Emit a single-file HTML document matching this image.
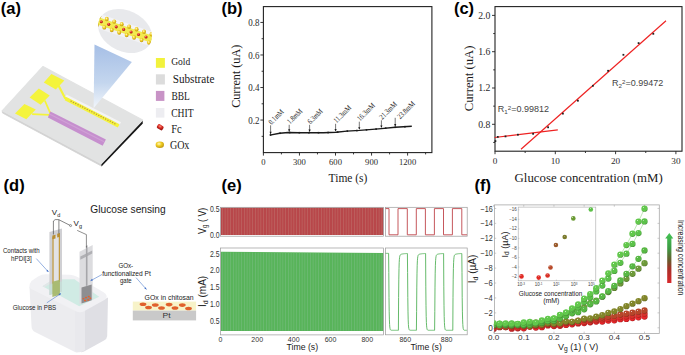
<!DOCTYPE html>
<html><head><meta charset="utf-8"><style>
html,body{margin:0;padding:0;background:#fff;width:685px;height:355px;overflow:hidden}
svg{display:block}
</style></head><body>
<svg width="685" height="355" viewBox="0 0 685 355" font-family="'Liberation Sans', sans-serif">
<defs>
<linearGradient id="cone" x1="0" y1="0" x2="0" y2="1">
 <stop offset="0" stop-color="#a6bfe6"/><stop offset="0.6" stop-color="#c4d6ee"/><stop offset="1" stop-color="#f2f6fb"/>
</linearGradient>
<radialGradient id="gold" cx="0.4" cy="0.35" r="0.7">
 <stop offset="0" stop-color="#fffac0"/><stop offset="0.45" stop-color="#f0cc20"/><stop offset="1" stop-color="#b89010"/>
</radialGradient>
<radialGradient id="redb" cx="0.4" cy="0.35" r="0.7">
 <stop offset="0" stop-color="#ff9080"/><stop offset="0.5" stop-color="#d82a20"/><stop offset="1" stop-color="#901010"/>
</radialGradient>
<clipPath id="ellclip"><ellipse cx="125" cy="31" rx="28.2" ry="20.4" transform="rotate(25 125 31)"/></clipPath>
<linearGradient id="arrowg" x1="0" y1="0" x2="0" y2="1">
 <stop offset="0" stop-color="#44c454"/><stop offset="0.3" stop-color="#3c9c44"/><stop offset="0.55" stop-color="#6a5a2c"/><stop offset="0.72" stop-color="#a83028"/><stop offset="1" stop-color="#d8282c"/>
</linearGradient>
</defs>
<text x="0.80" y="14.30" font-family="'Liberation Sans', sans-serif" font-size="16.5" fill="#000" font-weight="bold" >(a)</text>
<polygon points="2.20,110.80 101.30,163.60 101.30,166.00 2.50,113.00" fill="#d2d2d2" stroke="#d2d2d2" stroke-width="0.8" stroke-linejoin="round"/>
<polygon points="101.30,163.60 142.60,120.00 142.80,123.40 101.50,166.60" fill="#161616" />
<polygon points="43.00,66.50 142.60,120.00 101.30,163.60 2.20,110.80" fill="#e2e3e3" stroke="#e2e3e3" stroke-width="1.2" stroke-linejoin="round"/>
<polygon points="43.80,82.60 51.40,73.90 64.30,80.50 55.80,89.60" fill="#f4f43c" />
<polygon points="29.60,97.60 38.80,88.60 49.70,95.40 40.60,104.80" fill="#f4f43c" />
<polygon points="15.00,113.60 24.40,103.90 35.80,109.60 26.30,119.20" fill="#f4f43c" />
<polyline points="58.50,85.50 65.00,98.00 118.50,125.80" fill="none" stroke="#f4f43c" stroke-width="2.2" stroke-linejoin="round"/>
<polyline points="44.80,100.50 50.50,113.60" fill="none" stroke="#f4f43c" stroke-width="1.8" />
<polyline points="32.10,114.20 49.50,114.80" fill="none" stroke="#f4f43c" stroke-width="1.8" />
<polyline points="66.00,95.60 120.50,123.20" fill="none" stroke="#f4f4f4" stroke-width="2.4" />
<polyline points="65.50,98.60 118.50,125.90" fill="none" stroke="#f4f43c" stroke-width="3.6" />
<circle cx="71.15" cy="101.19" r="0.75" fill="#c09a3a"/>
<circle cx="73.45" cy="102.38" r="0.75" fill="#c09a3a"/>
<circle cx="75.75" cy="103.56" r="0.75" fill="#c09a3a"/>
<circle cx="78.05" cy="104.75" r="0.75" fill="#c09a3a"/>
<circle cx="80.35" cy="105.93" r="0.75" fill="#c09a3a"/>
<circle cx="82.65" cy="107.12" r="0.75" fill="#c09a3a"/>
<circle cx="84.95" cy="108.30" r="0.75" fill="#c09a3a"/>
<circle cx="87.25" cy="109.49" r="0.75" fill="#c09a3a"/>
<circle cx="89.55" cy="110.67" r="0.75" fill="#c09a3a"/>
<circle cx="91.85" cy="111.86" r="0.75" fill="#c09a3a"/>
<circle cx="94.15" cy="113.04" r="0.75" fill="#c09a3a"/>
<circle cx="96.45" cy="114.23" r="0.75" fill="#c09a3a"/>
<circle cx="98.75" cy="115.41" r="0.75" fill="#c09a3a"/>
<circle cx="101.05" cy="116.60" r="0.75" fill="#c09a3a"/>
<circle cx="103.35" cy="117.78" r="0.75" fill="#c09a3a"/>
<circle cx="105.65" cy="118.97" r="0.75" fill="#c09a3a"/>
<circle cx="107.95" cy="120.15" r="0.75" fill="#c09a3a"/>
<circle cx="110.25" cy="121.34" r="0.75" fill="#c09a3a"/>
<circle cx="112.55" cy="122.52" r="0.75" fill="#c09a3a"/>
<circle cx="114.85" cy="123.71" r="0.75" fill="#c09a3a"/>
<polygon points="50.40,111.50 105.90,139.40 102.70,145.70 47.90,117.60" fill="#c68fce" />
<polyline points="49.40,114.00 104.20,141.80" fill="none" stroke="#d0a0d6" stroke-width="1.1" />
<polygon points="94.50,44.50 131.90,62.10 93.60,108.30" fill="url(#cone)" />
<ellipse cx="125" cy="31" rx="28.2" ry="20.4" transform="rotate(25 125 31)" fill="#e8e9ec"/>
<g clip-path="url(#ellclip)">
<polyline points="90.00,12.76 160.00,36.56" fill="none" stroke="#f4f4f6" stroke-width="4" />
<polyline points="90.00,23.56 160.00,47.36" fill="none" stroke="#f2f2f4" stroke-width="4" />
<polyline points="90.00,18.16 160.00,41.96" fill="none" stroke="#f2ea50" stroke-width="7.2" />
<ellipse cx="99.35" cy="16.54" rx="1.95" ry="2.2" fill="url(#gold)"/>
<ellipse cx="96.85" cy="24.89" rx="1.95" ry="2.2" fill="url(#gold)"/>
<circle cx="93.85" cy="19.27" r="1.55" fill="url(#redb)"/>
<ellipse cx="106.80" cy="19.07" rx="1.95" ry="2.2" fill="url(#gold)"/>
<ellipse cx="104.30" cy="27.42" rx="1.95" ry="2.2" fill="url(#gold)"/>
<circle cx="101.30" cy="21.80" r="1.55" fill="url(#redb)"/>
<ellipse cx="114.25" cy="21.60" rx="1.95" ry="2.2" fill="url(#gold)"/>
<ellipse cx="111.75" cy="29.95" rx="1.95" ry="2.2" fill="url(#gold)"/>
<circle cx="108.75" cy="24.33" r="1.55" fill="url(#redb)"/>
<ellipse cx="121.70" cy="24.14" rx="1.95" ry="2.2" fill="url(#gold)"/>
<ellipse cx="119.20" cy="32.49" rx="1.95" ry="2.2" fill="url(#gold)"/>
<circle cx="116.20" cy="26.87" r="1.55" fill="url(#redb)"/>
<ellipse cx="129.15" cy="26.67" rx="1.95" ry="2.2" fill="url(#gold)"/>
<ellipse cx="126.65" cy="35.02" rx="1.95" ry="2.2" fill="url(#gold)"/>
<circle cx="123.65" cy="29.40" r="1.55" fill="url(#redb)"/>
<ellipse cx="136.60" cy="29.20" rx="1.95" ry="2.2" fill="url(#gold)"/>
<ellipse cx="134.10" cy="37.55" rx="1.95" ry="2.2" fill="url(#gold)"/>
<circle cx="131.10" cy="31.93" r="1.55" fill="url(#redb)"/>
<ellipse cx="144.05" cy="31.74" rx="1.95" ry="2.2" fill="url(#gold)"/>
<ellipse cx="141.55" cy="40.09" rx="1.95" ry="2.2" fill="url(#gold)"/>
<circle cx="138.55" cy="34.47" r="1.55" fill="url(#redb)"/>
<ellipse cx="151.50" cy="34.27" rx="1.95" ry="2.2" fill="url(#gold)"/>
<ellipse cx="149.00" cy="42.62" rx="1.95" ry="2.2" fill="url(#gold)"/>
<circle cx="146.00" cy="37.00" r="1.55" fill="url(#redb)"/>
<ellipse cx="158.95" cy="36.80" rx="1.95" ry="2.2" fill="url(#gold)"/>
<ellipse cx="156.45" cy="45.15" rx="1.95" ry="2.2" fill="url(#gold)"/>
<circle cx="153.45" cy="39.53" r="1.55" fill="url(#redb)"/>
<ellipse cx="166.40" cy="39.33" rx="1.95" ry="2.2" fill="url(#gold)"/>
<ellipse cx="163.90" cy="47.68" rx="1.95" ry="2.2" fill="url(#gold)"/>
<circle cx="160.90" cy="42.06" r="1.55" fill="url(#redb)"/>
</g>
<rect x="155.9" y="58" width="9" height="9.8" fill="#f2f23c"/>
<rect x="155.9" y="74.3" width="9" height="10.2" fill="#dcdcdc"/>
<rect x="155.9" y="90.9" width="8.5" height="10" fill="#c893c6"/>
<rect x="155.9" y="108" width="8.5" height="9.6" fill="#ededf1"/>
<rect x="157.0" y="124.9" width="6.4" height="4.6" rx="1.4" transform="rotate(32 160.2 127.2)" fill="url(#redb)"/>
<ellipse cx="159.8" cy="144.8" rx="4.2" ry="3.2" fill="url(#gold)"/>
<text x="171.20" y="64.60" font-family="'Liberation Serif', serif" font-size="11" fill="#1a1a1a" textLength="19.10" lengthAdjust="spacingAndGlyphs" >Gold</text>
<text x="172.70" y="83.10" font-family="'Liberation Serif', serif" font-size="13" fill="#1a1a1a" textLength="41.70" lengthAdjust="spacingAndGlyphs" >Substrate</text>
<text x="171.50" y="99.90" font-family="'Liberation Serif', serif" font-size="12.5" fill="#1a1a1a" textLength="18.30" lengthAdjust="spacingAndGlyphs" >BBL</text>
<text x="171.20" y="116.80" font-family="'Liberation Serif', serif" font-size="12.5" fill="#1a1a1a" textLength="22.50" lengthAdjust="spacingAndGlyphs" >CHIT</text>
<text x="171.20" y="133.20" font-family="'Liberation Serif', serif" font-size="11.5" fill="#1a1a1a" textLength="10.50" lengthAdjust="spacingAndGlyphs" >Fc</text>
<text x="169.90" y="148.80" font-family="'Liberation Serif', serif" font-size="12" fill="#1a1a1a" textLength="19.50" lengthAdjust="spacingAndGlyphs" >GOx</text>
<text x="221.40" y="14.10" font-family="'Liberation Sans', sans-serif" font-size="16.5" fill="#000" font-weight="bold" >(b)</text>
<line x1="261.60" y1="136.33" x2="263.40" y2="136.33" stroke="#222" stroke-width="0.9" />
<line x1="260.40" y1="120.06" x2="263.40" y2="120.06" stroke="#222" stroke-width="0.9" />
<line x1="261.60" y1="103.79" x2="263.40" y2="103.79" stroke="#222" stroke-width="0.9" />
<line x1="260.40" y1="87.52" x2="263.40" y2="87.52" stroke="#222" stroke-width="0.9" />
<line x1="261.60" y1="71.25" x2="263.40" y2="71.25" stroke="#222" stroke-width="0.9" />
<line x1="260.40" y1="54.98" x2="263.40" y2="54.98" stroke="#222" stroke-width="0.9" />
<line x1="261.60" y1="38.71" x2="263.40" y2="38.71" stroke="#222" stroke-width="0.9" />
<line x1="260.40" y1="22.44" x2="263.40" y2="22.44" stroke="#222" stroke-width="0.9" />
<line x1="263.40" y1="152.60" x2="263.40" y2="155.60" stroke="#222" stroke-width="0.9" />
<line x1="281.42" y1="152.60" x2="281.42" y2="154.40" stroke="#222" stroke-width="0.9" />
<line x1="299.45" y1="152.60" x2="299.45" y2="155.60" stroke="#222" stroke-width="0.9" />
<line x1="317.48" y1="152.60" x2="317.48" y2="154.40" stroke="#222" stroke-width="0.9" />
<line x1="335.50" y1="152.60" x2="335.50" y2="155.60" stroke="#222" stroke-width="0.9" />
<line x1="353.52" y1="152.60" x2="353.52" y2="154.40" stroke="#222" stroke-width="0.9" />
<line x1="371.55" y1="152.60" x2="371.55" y2="155.60" stroke="#222" stroke-width="0.9" />
<line x1="389.58" y1="152.60" x2="389.58" y2="154.40" stroke="#222" stroke-width="0.9" />
<line x1="407.60" y1="152.60" x2="407.60" y2="155.60" stroke="#222" stroke-width="0.9" />
<line x1="425.62" y1="152.60" x2="425.62" y2="154.40" stroke="#222" stroke-width="0.9" />
<rect x="263.4" y="6.6" width="168.5" height="146.0" fill="none" stroke="#222" stroke-width="1.1"/>
<text x="259.40" y="123.76" font-family="'Liberation Serif', serif" font-size="10" fill="#2a2a2a" text-anchor="end" textLength="11.20" lengthAdjust="spacingAndGlyphs" >0.2</text>
<text x="259.40" y="91.22" font-family="'Liberation Serif', serif" font-size="10" fill="#2a2a2a" text-anchor="end" textLength="11.20" lengthAdjust="spacingAndGlyphs" >0.4</text>
<text x="259.40" y="58.68" font-family="'Liberation Serif', serif" font-size="10" fill="#2a2a2a" text-anchor="end" textLength="11.20" lengthAdjust="spacingAndGlyphs" >0.6</text>
<text x="259.40" y="26.14" font-family="'Liberation Serif', serif" font-size="10" fill="#2a2a2a" text-anchor="end" textLength="11.20" lengthAdjust="spacingAndGlyphs" >0.8</text>
<text x="263.40" y="164.90" font-family="'Liberation Serif', serif" font-size="9" fill="#2a2a2a" text-anchor="middle" textLength="4.30" lengthAdjust="spacingAndGlyphs" >0</text>
<text x="299.45" y="164.90" font-family="'Liberation Serif', serif" font-size="9" fill="#2a2a2a" text-anchor="middle" textLength="12.90" lengthAdjust="spacingAndGlyphs" >300</text>
<text x="335.50" y="164.90" font-family="'Liberation Serif', serif" font-size="9" fill="#2a2a2a" text-anchor="middle" textLength="12.90" lengthAdjust="spacingAndGlyphs" >600</text>
<text x="371.55" y="164.90" font-family="'Liberation Serif', serif" font-size="9" fill="#2a2a2a" text-anchor="middle" textLength="12.90" lengthAdjust="spacingAndGlyphs" >900</text>
<text x="407.60" y="164.90" font-family="'Liberation Serif', serif" font-size="9" fill="#2a2a2a" text-anchor="middle" textLength="17.20" lengthAdjust="spacingAndGlyphs" >1200</text>
<text x="239.60" y="76.30" font-family="'Liberation Serif', serif" font-size="11.5" fill="#1a1a1a" text-anchor="middle" textLength="63.00" lengthAdjust="spacingAndGlyphs" transform="rotate(-90 239.60 76.30)" >Current (uA)</text>
<text x="348.00" y="182.40" font-family="'Liberation Serif', serif" font-size="13" fill="#1a1a1a" text-anchor="middle" textLength="38.80" lengthAdjust="spacingAndGlyphs" >Time (s)</text>
<polyline points="269.90,135.10 279.70,133.30 288.20,132.50 299.40,132.70 309.30,132.70 323.40,132.70 336.00,132.30 346.90,131.10 359.60,130.40 372.30,129.40 381.40,128.60 395.20,127.30 411.80,126.30" fill="none" stroke="#1a1a1a" stroke-width="1.4" stroke-linejoin="round"/>
<rect x="269.70" y="134.19" width="1.6" height="1.6" fill="#1a1a1a"/>
<rect x="279.30" y="132.46" width="1.6" height="1.6" fill="#1a1a1a"/>
<rect x="288.90" y="131.73" width="1.6" height="1.6" fill="#1a1a1a"/>
<rect x="298.50" y="131.90" width="1.6" height="1.6" fill="#1a1a1a"/>
<rect x="308.10" y="131.90" width="1.6" height="1.6" fill="#1a1a1a"/>
<rect x="317.70" y="131.90" width="1.6" height="1.6" fill="#1a1a1a"/>
<rect x="327.30" y="131.75" width="1.6" height="1.6" fill="#1a1a1a"/>
<rect x="336.90" y="131.31" width="1.6" height="1.6" fill="#1a1a1a"/>
<rect x="346.50" y="130.28" width="1.6" height="1.6" fill="#1a1a1a"/>
<rect x="356.10" y="129.75" width="1.6" height="1.6" fill="#1a1a1a"/>
<rect x="365.70" y="129.06" width="1.6" height="1.6" fill="#1a1a1a"/>
<rect x="375.30" y="128.27" width="1.6" height="1.6" fill="#1a1a1a"/>
<rect x="384.90" y="127.39" width="1.6" height="1.6" fill="#1a1a1a"/>
<rect x="394.50" y="126.49" width="1.6" height="1.6" fill="#1a1a1a"/>
<rect x="404.10" y="125.92" width="1.6" height="1.6" fill="#1a1a1a"/>
<line x1="270.60" y1="125.30" x2="270.60" y2="133.77" stroke="#1a1a1a" stroke-width="0.6" />
<polygon points="269.50,131.77 271.70,131.77 270.60,134.17" fill="#1a1a1a" />
<text x="271.40" y="125.10" font-family="'Liberation Serif', serif" font-size="7.8" fill="#1a1a1a" textLength="18.25" lengthAdjust="spacingAndGlyphs" transform="rotate(-45 271.40 125.10)" >0.1mM</text>
<line x1="289.20" y1="124.80" x2="289.20" y2="131.32" stroke="#1a1a1a" stroke-width="0.6" />
<polygon points="288.10,129.32 290.30,129.32 289.20,131.72" fill="#1a1a1a" />
<text x="290.00" y="124.60" font-family="'Liberation Serif', serif" font-size="7.8" fill="#1a1a1a" textLength="18.25" lengthAdjust="spacingAndGlyphs" transform="rotate(-45 290.00 124.60)" >1.8mM</text>
<line x1="309.60" y1="124.80" x2="309.60" y2="131.50" stroke="#1a1a1a" stroke-width="0.6" />
<polygon points="308.50,129.50 310.70,129.50 309.60,131.90" fill="#1a1a1a" />
<text x="310.40" y="124.60" font-family="'Liberation Serif', serif" font-size="7.8" fill="#1a1a1a" textLength="18.25" lengthAdjust="spacingAndGlyphs" transform="rotate(-45 310.40 124.60)" >6.3mM</text>
<line x1="335.60" y1="123.80" x2="335.60" y2="131.11" stroke="#1a1a1a" stroke-width="0.6" />
<polygon points="334.50,129.11 336.70,129.11 335.60,131.51" fill="#1a1a1a" />
<text x="336.40" y="123.60" font-family="'Liberation Serif', serif" font-size="7.8" fill="#1a1a1a" textLength="21.80" lengthAdjust="spacingAndGlyphs" transform="rotate(-45 336.40 123.60)" >11.3mM</text>
<line x1="359.30" y1="121.70" x2="359.30" y2="129.22" stroke="#1a1a1a" stroke-width="0.6" />
<polygon points="358.20,127.22 360.40,127.22 359.30,129.62" fill="#1a1a1a" />
<text x="360.10" y="121.50" font-family="'Liberation Serif', serif" font-size="7.8" fill="#1a1a1a" textLength="21.80" lengthAdjust="spacingAndGlyphs" transform="rotate(-45 360.10 121.50)" >16.3mM</text>
<line x1="381.40" y1="120.30" x2="381.40" y2="127.40" stroke="#1a1a1a" stroke-width="0.6" />
<polygon points="380.30,125.40 382.50,125.40 381.40,127.80" fill="#1a1a1a" />
<text x="382.20" y="120.10" font-family="'Liberation Serif', serif" font-size="7.8" fill="#1a1a1a" textLength="21.80" lengthAdjust="spacingAndGlyphs" transform="rotate(-45 382.20 120.10)" >21.3mM</text>
<line x1="395.20" y1="117.80" x2="395.20" y2="126.10" stroke="#1a1a1a" stroke-width="0.6" />
<polygon points="394.10,124.10 396.30,124.10 395.20,126.50" fill="#1a1a1a" />
<text x="400.20" y="119.60" font-family="'Liberation Serif', serif" font-size="7.8" fill="#1a1a1a" textLength="21.80" lengthAdjust="spacingAndGlyphs" transform="rotate(-45 400.20 119.60)" >23.8mM</text>
<text x="453.90" y="14.00" font-family="'Liberation Sans', sans-serif" font-size="16.5" fill="#000" font-weight="bold" >(c)</text>
<line x1="493.20" y1="142.45" x2="495.00" y2="142.45" stroke="#222" stroke-width="0.9" />
<line x1="492.00" y1="124.30" x2="495.00" y2="124.30" stroke="#222" stroke-width="0.9" />
<line x1="493.20" y1="106.15" x2="495.00" y2="106.15" stroke="#222" stroke-width="0.9" />
<line x1="492.00" y1="88.00" x2="495.00" y2="88.00" stroke="#222" stroke-width="0.9" />
<line x1="493.20" y1="69.85" x2="495.00" y2="69.85" stroke="#222" stroke-width="0.9" />
<line x1="492.00" y1="51.70" x2="495.00" y2="51.70" stroke="#222" stroke-width="0.9" />
<line x1="493.20" y1="33.55" x2="495.00" y2="33.55" stroke="#222" stroke-width="0.9" />
<line x1="492.00" y1="15.40" x2="495.00" y2="15.40" stroke="#222" stroke-width="0.9" />
<line x1="495.00" y1="151.20" x2="495.00" y2="154.20" stroke="#222" stroke-width="0.9" />
<line x1="525.15" y1="151.20" x2="525.15" y2="153.00" stroke="#222" stroke-width="0.9" />
<line x1="555.30" y1="151.20" x2="555.30" y2="154.20" stroke="#222" stroke-width="0.9" />
<line x1="585.45" y1="151.20" x2="585.45" y2="153.00" stroke="#222" stroke-width="0.9" />
<line x1="615.60" y1="151.20" x2="615.60" y2="154.20" stroke="#222" stroke-width="0.9" />
<line x1="645.75" y1="151.20" x2="645.75" y2="153.00" stroke="#222" stroke-width="0.9" />
<line x1="675.90" y1="151.20" x2="675.90" y2="154.20" stroke="#222" stroke-width="0.9" />
<rect x="495.0" y="6.6" width="187.0" height="144.6" fill="none" stroke="#222" stroke-width="1.1"/>
<text x="490.40" y="127.70" font-family="'Liberation Serif', serif" font-size="10" fill="#2a2a2a" text-anchor="end" textLength="12.20" lengthAdjust="spacingAndGlyphs" >0.8</text>
<text x="490.40" y="91.40" font-family="'Liberation Serif', serif" font-size="10" fill="#2a2a2a" text-anchor="end" textLength="12.20" lengthAdjust="spacingAndGlyphs" >1.2</text>
<text x="490.40" y="55.10" font-family="'Liberation Serif', serif" font-size="10" fill="#2a2a2a" text-anchor="end" textLength="12.20" lengthAdjust="spacingAndGlyphs" >1.6</text>
<text x="490.40" y="18.80" font-family="'Liberation Serif', serif" font-size="10" fill="#2a2a2a" text-anchor="end" textLength="12.20" lengthAdjust="spacingAndGlyphs" >2.0</text>
<text x="495.00" y="163.50" font-family="'Liberation Serif', serif" font-size="9" fill="#2a2a2a" text-anchor="middle" textLength="4.60" lengthAdjust="spacingAndGlyphs" >0</text>
<text x="555.30" y="163.50" font-family="'Liberation Serif', serif" font-size="9" fill="#2a2a2a" text-anchor="middle" textLength="9.20" lengthAdjust="spacingAndGlyphs" >10</text>
<text x="615.60" y="163.50" font-family="'Liberation Serif', serif" font-size="9" fill="#2a2a2a" text-anchor="middle" textLength="9.20" lengthAdjust="spacingAndGlyphs" >20</text>
<text x="675.90" y="163.50" font-family="'Liberation Serif', serif" font-size="9" fill="#2a2a2a" text-anchor="middle" textLength="9.20" lengthAdjust="spacingAndGlyphs" >30</text>
<text x="472.60" y="78.40" font-family="'Liberation Serif', serif" font-size="12" fill="#1a1a1a" text-anchor="middle" textLength="65.80" lengthAdjust="spacingAndGlyphs" transform="rotate(-90 472.60 78.40)" >Current (uA)</text>
<text x="588.70" y="181.80" font-family="'Liberation Serif', serif" font-size="13" fill="#1a1a1a" text-anchor="middle" textLength="148.20" lengthAdjust="spacingAndGlyphs" >Glucose concentration (mM)</text>
<line x1="494.70" y1="137.50" x2="557.80" y2="129.90" stroke="#ee2222" stroke-width="1.2" />
<line x1="521.00" y1="149.30" x2="666.00" y2="20.80" stroke="#ee2222" stroke-width="1.2" />
<rect x="494.50" y="140.20" width="1.8" height="1.8" fill="#222"/>
<rect x="496.90" y="136.00" width="1.8" height="1.8" fill="#222"/>
<rect x="504.60" y="135.50" width="1.8" height="1.8" fill="#222"/>
<rect x="517.00" y="133.80" width="1.8" height="1.8" fill="#222"/>
<rect x="532.20" y="132.90" width="1.8" height="1.8" fill="#222"/>
<rect x="547.20" y="126.40" width="1.8" height="1.8" fill="#222"/>
<rect x="562.00" y="112.70" width="1.8" height="1.8" fill="#222"/>
<rect x="577.00" y="99.80" width="1.8" height="1.8" fill="#222"/>
<rect x="592.00" y="84.90" width="1.8" height="1.8" fill="#222"/>
<rect x="607.20" y="69.90" width="1.8" height="1.8" fill="#222"/>
<rect x="622.50" y="53.90" width="1.8" height="1.8" fill="#222"/>
<rect x="637.70" y="42.20" width="1.8" height="1.8" fill="#222"/>
<rect x="652.40" y="32.90" width="1.8" height="1.8" fill="#222"/>
<text x="497.80" y="112.40" font-family="'Liberation Sans', sans-serif" font-size="9" fill="#444" >R<tspan font-size="6.2" dy="1.6">1</tspan><tspan font-size="6.2" dy="-4.2">2</tspan><tspan dy="2.6">=0.99812</tspan></text>
<text x="612.00" y="86.30" font-family="'Liberation Sans', sans-serif" font-size="9" fill="#444" >R<tspan font-size="6.2" dy="1.6">2</tspan><tspan font-size="6.2" dy="-4.2">2</tspan><tspan dy="2.6">=0.99472</tspan></text>
<text x="3.60" y="190.80" font-family="'Liberation Sans', sans-serif" font-size="16.5" fill="#000" font-weight="bold" >(d)</text>
<text x="90.30" y="212.70" font-family="'Liberation Sans', sans-serif" font-size="10.3" fill="#1a1a1a" textLength="75.40" lengthAdjust="spacingAndGlyphs" >Glucose sensing</text>
<path d="M29.5,287 L80,311.5 L80,350.5 Q79,353.5 75,352 L35,332 Q31.5,330 31.5,326 Z" fill="#ececef"/>
<path d="M80,311.5 L108,297.5 L107.2,336 Q107,339 104,340.5 L84,351.5 Q80,353.5 80,350.5 Z" fill="#dfdfe4"/>
<path d="M75,309.5 Q80,313.5 85,309 L85,350 Q80,354 75,351 Z" fill="#e9e9ed"/>
<path d="M29.3,288 Q28.8,284 31.5,281 L38,276.5 Q41.5,274.3 46,274.3 L70,274.8 Q74,275 77.5,277 L104,292.5 Q108.8,295.8 105.2,299.6 L84.5,311 Q80,313.4 75.5,311 Z" fill="#f1f1f4"/>
<path d="M42.5,286.2 L53.5,279.2 L74.5,279.3 L99.2,296.8 L79.3,306.3 Z" fill="#d0ebe4"/>
<path d="M42.5,286.2 L53.5,279.2 L55,280.5 L44.5,287.2 Z" fill="#e2e6e8"/>
<path d="M49.4,232 L62,228.5 L62,291.5 L49.4,295 Z" fill="#d0d0d4"/>
<path d="M53.6,236.5 L58.8,235 L58.8,290 L53.6,291.5 Z" fill="#e2e2e5"/>
<path d="M52.4,236.8 L53.6,236.5 L53.6,293.8 L52.4,294.1 Z" fill="#c39a3c"/>
<path d="M58.8,235 L60,234.7 L60,291.6 L58.8,291.9 Z" fill="#c39a3c"/>
<path d="M52.4,235.6 L55.5,234.8 L55.5,238.4 L52.4,239.2 Z" fill="#b88e34"/>
<path d="M57.2,233.8 L60,233.1 L60,236.7 L57.2,237.4 Z" fill="#b88e34"/>
<path d="M49.4,284.5 L62,281.2 L62,291.5 L49.4,295 Z" fill="#c4e0d8" opacity="0.8"/>
<path d="M52.4,281.8 L59.9,279.8 L59.9,294.8 L52.4,296.9 Z" fill="#a6b86e" opacity="0.95"/>
<path d="M79.5,251.8 L92.7,244.9 L92.7,299.5 L79.5,304.2 Z" fill="#dcdcdf"/>
<path d="M80.3,256.6 L92.2,250.4 L92.2,253.6 L80.3,259.8 Z" fill="#b0b0b4"/>
<path d="M85.9,246 L87.5,245.2 L87.5,285.5 L85.9,286 Z" fill="#a6a6aa"/>
<path d="M81.5,287.6 L91.7,284.4 L91.7,300.2 L81.5,303.6 Z" fill="#8e8e91"/>
<ellipse cx="83.4" cy="298.8" rx="1.05" ry="0.8" fill="#e8602a"/>
<ellipse cx="86.0" cy="297.6" rx="1.05" ry="0.8" fill="#e8602a"/>
<ellipse cx="88.8" cy="296.6" rx="1.05" ry="0.8" fill="#e8602a"/>
<ellipse cx="85.0" cy="300.6" rx="1.05" ry="0.8" fill="#e8602a"/>
<ellipse cx="88.2" cy="299.9" rx="1.05" ry="0.8" fill="#e8602a"/>
<ellipse cx="90.3" cy="298.2" rx="1.05" ry="0.8" fill="#e8602a"/>
<polyline points="53.40,234.50 53.40,221.00 55.20,219.60 58.90,219.60 58.90,233.50" fill="none" stroke="#333" stroke-width="0.6" />
<line x1="59.00" y1="219.80" x2="70.10" y2="225.40" stroke="#333" stroke-width="0.6" />
<circle cx="70.6" cy="225.6" r="1.0" fill="#fff" stroke="#333" stroke-width="0.5"/>
<polyline points="77.20,230.40 86.40,234.60 86.40,247.50" fill="none" stroke="#444" stroke-width="0.6" />
<text x="51.80" y="215.20" font-family="'Liberation Sans', sans-serif" font-size="8" fill="#222" >V<tspan font-size="5.5" dy="1.6">d</tspan></text>
<text x="73.60" y="226.40" font-family="'Liberation Sans', sans-serif" font-size="8" fill="#222" >V<tspan font-size="5.5" dy="1.6">g</tspan></text>
<text x="21.30" y="253.20" font-family="'Liberation Sans', sans-serif" font-size="6.6" fill="#1a1a1a" text-anchor="middle" textLength="36.70" lengthAdjust="spacingAndGlyphs" >Contacts with</text>
<text x="21.40" y="260.80" font-family="'Liberation Sans', sans-serif" font-size="6.6" fill="#1a1a1a" text-anchor="middle" textLength="20.80" lengthAdjust="spacingAndGlyphs" >hPDI[3]</text>
<text x="34.50" y="310.00" font-family="'Liberation Sans', sans-serif" font-size="6.8" fill="#1a1a1a" text-anchor="middle" textLength="43.40" lengthAdjust="spacingAndGlyphs" >Glucose in PBS</text>
<text x="125.80" y="268.20" font-family="'Liberation Sans', sans-serif" font-size="6.6" fill="#1a1a1a" text-anchor="middle" textLength="14.80" lengthAdjust="spacingAndGlyphs" >GOx-</text>
<text x="126.50" y="275.60" font-family="'Liberation Sans', sans-serif" font-size="6.6" fill="#1a1a1a" text-anchor="middle" textLength="48.70" lengthAdjust="spacingAndGlyphs" >functionalized Pt</text>
<text x="125.80" y="283.00" font-family="'Liberation Sans', sans-serif" font-size="6.6" fill="#1a1a1a" text-anchor="middle" textLength="11.80" lengthAdjust="spacingAndGlyphs" >gate</text>
<line x1="36.30" y1="258.60" x2="48.50" y2="272.00" stroke="#3f6fc8" stroke-width="0.55" />
<polygon points="48.50,272.00 46.28,271.05 47.76,269.70" fill="#3f6fc8" />
<line x1="46.80" y1="302.80" x2="61.00" y2="293.50" stroke="#3f6fc8" stroke-width="0.55" />
<polygon points="61.00,293.50 59.71,295.54 58.61,293.87" fill="#3f6fc8" />
<line x1="102.00" y1="274.50" x2="90.50" y2="280.80" stroke="#3f6fc8" stroke-width="0.55" />
<polygon points="90.50,280.80 91.95,278.87 92.91,280.62" fill="#3f6fc8" />
<line x1="136.10" y1="277.70" x2="146.50" y2="289.50" stroke="#3f6fc8" stroke-width="0.55" />
<polygon points="146.50,289.50 144.30,288.51 145.80,287.19" fill="#3f6fc8" />
<rect x="132.8" y="301.6" width="63.3" height="9" fill="#f7f3c9"/>
<rect x="132.8" y="310.6" width="63.3" height="9.8" fill="#c9c9c9"/>
<ellipse cx="143" cy="304.3" rx="3.4" ry="1.8" fill="#e0602c"/>
<ellipse cx="148.5" cy="307.5" rx="3.4" ry="1.8" fill="#e0602c"/>
<ellipse cx="155.3" cy="305" rx="3.4" ry="1.8" fill="#e0602c"/>
<ellipse cx="161.5" cy="308" rx="3.4" ry="1.8" fill="#e0602c"/>
<ellipse cx="169.1" cy="304.6" rx="3.4" ry="1.8" fill="#e0602c"/>
<ellipse cx="175" cy="308" rx="3.4" ry="1.8" fill="#e0602c"/>
<ellipse cx="182.3" cy="305.1" rx="3.4" ry="1.8" fill="#e0602c"/>
<ellipse cx="188.5" cy="308.5" rx="3.4" ry="1.8" fill="#e0602c"/>
<text x="169.10" y="299.60" font-family="'Liberation Sans', sans-serif" font-size="7.2" fill="#1a1a1a" text-anchor="middle" textLength="49.00" lengthAdjust="spacingAndGlyphs" >GOx in chitosan</text>
<text x="166.60" y="318.30" font-family="'Liberation Sans', sans-serif" font-size="8" fill="#333" text-anchor="middle" textLength="8.00" lengthAdjust="spacingAndGlyphs" >Pt</text>
<text x="221.60" y="190.60" font-family="'Liberation Sans', sans-serif" font-size="16.5" fill="#000" font-weight="bold" >(e)</text>
<rect x="220.8" y="207.6" width="162.6" height="27.4" fill="#b8474a"/>
<rect x="222.00" y="208" width="0.7" height="27" fill="#c07570" opacity="0.7"/>
<rect x="224.75" y="208" width="0.7" height="27" fill="#c07570" opacity="0.7"/>
<rect x="227.50" y="208" width="0.7" height="27" fill="#c07570" opacity="0.7"/>
<rect x="230.25" y="208" width="0.7" height="27" fill="#c07570" opacity="0.7"/>
<rect x="233.00" y="208" width="0.7" height="27" fill="#c07570" opacity="0.7"/>
<rect x="235.75" y="208" width="0.7" height="27" fill="#c07570" opacity="0.7"/>
<rect x="238.50" y="208" width="0.7" height="27" fill="#c07570" opacity="0.7"/>
<rect x="241.25" y="208" width="0.7" height="27" fill="#c07570" opacity="0.7"/>
<rect x="244.00" y="208" width="0.7" height="27" fill="#c07570" opacity="0.7"/>
<rect x="246.75" y="208" width="0.7" height="27" fill="#c07570" opacity="0.7"/>
<rect x="249.50" y="208" width="0.7" height="27" fill="#c07570" opacity="0.7"/>
<rect x="252.25" y="208" width="0.7" height="27" fill="#c07570" opacity="0.7"/>
<rect x="255.00" y="208" width="0.7" height="27" fill="#c07570" opacity="0.7"/>
<rect x="257.75" y="208" width="0.7" height="27" fill="#c07570" opacity="0.7"/>
<rect x="260.50" y="208" width="0.7" height="27" fill="#c07570" opacity="0.7"/>
<rect x="263.25" y="208" width="0.7" height="27" fill="#c07570" opacity="0.7"/>
<rect x="266.00" y="208" width="0.7" height="27" fill="#c07570" opacity="0.7"/>
<rect x="268.75" y="208" width="0.7" height="27" fill="#c07570" opacity="0.7"/>
<rect x="271.50" y="208" width="0.7" height="27" fill="#c07570" opacity="0.7"/>
<rect x="274.25" y="208" width="0.7" height="27" fill="#c07570" opacity="0.7"/>
<rect x="277.00" y="208" width="0.7" height="27" fill="#c07570" opacity="0.7"/>
<rect x="279.75" y="208" width="0.7" height="27" fill="#c07570" opacity="0.7"/>
<rect x="282.50" y="208" width="0.7" height="27" fill="#c07570" opacity="0.7"/>
<rect x="285.25" y="208" width="0.7" height="27" fill="#c07570" opacity="0.7"/>
<rect x="288.00" y="208" width="0.7" height="27" fill="#c07570" opacity="0.7"/>
<rect x="290.75" y="208" width="0.7" height="27" fill="#c07570" opacity="0.7"/>
<rect x="293.50" y="208" width="0.7" height="27" fill="#c07570" opacity="0.7"/>
<rect x="296.25" y="208" width="0.7" height="27" fill="#c07570" opacity="0.7"/>
<rect x="299.00" y="208" width="0.7" height="27" fill="#c07570" opacity="0.7"/>
<rect x="301.75" y="208" width="0.7" height="27" fill="#c07570" opacity="0.7"/>
<rect x="304.50" y="208" width="0.7" height="27" fill="#c07570" opacity="0.7"/>
<rect x="307.25" y="208" width="0.7" height="27" fill="#c07570" opacity="0.7"/>
<rect x="310.00" y="208" width="0.7" height="27" fill="#c07570" opacity="0.7"/>
<rect x="312.75" y="208" width="0.7" height="27" fill="#c07570" opacity="0.7"/>
<rect x="315.50" y="208" width="0.7" height="27" fill="#c07570" opacity="0.7"/>
<rect x="318.25" y="208" width="0.7" height="27" fill="#c07570" opacity="0.7"/>
<rect x="321.00" y="208" width="0.7" height="27" fill="#c07570" opacity="0.7"/>
<rect x="323.75" y="208" width="0.7" height="27" fill="#c07570" opacity="0.7"/>
<rect x="326.50" y="208" width="0.7" height="27" fill="#c07570" opacity="0.7"/>
<rect x="329.25" y="208" width="0.7" height="27" fill="#c07570" opacity="0.7"/>
<rect x="332.00" y="208" width="0.7" height="27" fill="#c07570" opacity="0.7"/>
<rect x="334.75" y="208" width="0.7" height="27" fill="#c07570" opacity="0.7"/>
<rect x="337.50" y="208" width="0.7" height="27" fill="#c07570" opacity="0.7"/>
<rect x="340.25" y="208" width="0.7" height="27" fill="#c07570" opacity="0.7"/>
<rect x="343.00" y="208" width="0.7" height="27" fill="#c07570" opacity="0.7"/>
<rect x="345.75" y="208" width="0.7" height="27" fill="#c07570" opacity="0.7"/>
<rect x="348.50" y="208" width="0.7" height="27" fill="#c07570" opacity="0.7"/>
<rect x="351.25" y="208" width="0.7" height="27" fill="#c07570" opacity="0.7"/>
<rect x="354.00" y="208" width="0.7" height="27" fill="#c07570" opacity="0.7"/>
<rect x="356.75" y="208" width="0.7" height="27" fill="#c07570" opacity="0.7"/>
<rect x="359.50" y="208" width="0.7" height="27" fill="#c07570" opacity="0.7"/>
<rect x="362.25" y="208" width="0.7" height="27" fill="#c07570" opacity="0.7"/>
<rect x="365.00" y="208" width="0.7" height="27" fill="#c07570" opacity="0.7"/>
<rect x="367.75" y="208" width="0.7" height="27" fill="#c07570" opacity="0.7"/>
<rect x="370.50" y="208" width="0.7" height="27" fill="#c07570" opacity="0.7"/>
<rect x="373.25" y="208" width="0.7" height="27" fill="#c07570" opacity="0.7"/>
<rect x="376.00" y="208" width="0.7" height="27" fill="#c07570" opacity="0.7"/>
<rect x="378.75" y="208" width="0.7" height="27" fill="#c07570" opacity="0.7"/>
<rect x="381.50" y="208" width="0.7" height="27" fill="#c07570" opacity="0.7"/>
<rect x="220.4" y="207.3" width="163.2" height="28.9" fill="none" stroke="#9a9a9a" stroke-width="0.7"/>
<rect x="385.4" y="207.3" width="81.8" height="28.9" fill="#fff" stroke="#9a9a9a" stroke-width="0.7"/>
<polyline points="385.60,208.60 389.00,208.60 389.00,234.80 398.00,234.80 398.00,208.60 407.30,208.60 407.30,234.80 416.30,234.80 416.30,208.60 425.40,208.60 425.40,234.80 434.40,234.80 434.40,208.60 443.50,208.60 443.50,234.80 452.40,234.80 452.40,208.60 461.80,208.60 461.80,234.80 467.00,234.80" fill="none" stroke="#c0454b" stroke-width="0.9" />
<polygon points="220.8,251.7 383.4,253.0 383.4,331 220.8,331" fill="#58b45a"/>
<rect x="222.00" y="252.31" width="0.7" height="78.29" fill="#7cbf84" opacity="0.7"/>
<rect x="224.75" y="252.33" width="0.7" height="78.27" fill="#7cbf84" opacity="0.7"/>
<rect x="227.50" y="252.35" width="0.7" height="78.25" fill="#7cbf84" opacity="0.7"/>
<rect x="230.25" y="252.38" width="0.7" height="78.22" fill="#7cbf84" opacity="0.7"/>
<rect x="233.00" y="252.40" width="0.7" height="78.20" fill="#7cbf84" opacity="0.7"/>
<rect x="235.75" y="252.42" width="0.7" height="78.18" fill="#7cbf84" opacity="0.7"/>
<rect x="238.50" y="252.44" width="0.7" height="78.16" fill="#7cbf84" opacity="0.7"/>
<rect x="241.25" y="252.46" width="0.7" height="78.14" fill="#7cbf84" opacity="0.7"/>
<rect x="244.00" y="252.49" width="0.7" height="78.11" fill="#7cbf84" opacity="0.7"/>
<rect x="246.75" y="252.51" width="0.7" height="78.09" fill="#7cbf84" opacity="0.7"/>
<rect x="249.50" y="252.53" width="0.7" height="78.07" fill="#7cbf84" opacity="0.7"/>
<rect x="252.25" y="252.55" width="0.7" height="78.05" fill="#7cbf84" opacity="0.7"/>
<rect x="255.00" y="252.57" width="0.7" height="78.03" fill="#7cbf84" opacity="0.7"/>
<rect x="257.75" y="252.60" width="0.7" height="78.00" fill="#7cbf84" opacity="0.7"/>
<rect x="260.50" y="252.62" width="0.7" height="77.98" fill="#7cbf84" opacity="0.7"/>
<rect x="263.25" y="252.64" width="0.7" height="77.96" fill="#7cbf84" opacity="0.7"/>
<rect x="266.00" y="252.66" width="0.7" height="77.94" fill="#7cbf84" opacity="0.7"/>
<rect x="268.75" y="252.68" width="0.7" height="77.92" fill="#7cbf84" opacity="0.7"/>
<rect x="271.50" y="252.71" width="0.7" height="77.89" fill="#7cbf84" opacity="0.7"/>
<rect x="274.25" y="252.73" width="0.7" height="77.87" fill="#7cbf84" opacity="0.7"/>
<rect x="277.00" y="252.75" width="0.7" height="77.85" fill="#7cbf84" opacity="0.7"/>
<rect x="279.75" y="252.77" width="0.7" height="77.83" fill="#7cbf84" opacity="0.7"/>
<rect x="282.50" y="252.79" width="0.7" height="77.81" fill="#7cbf84" opacity="0.7"/>
<rect x="285.25" y="252.82" width="0.7" height="77.78" fill="#7cbf84" opacity="0.7"/>
<rect x="288.00" y="252.84" width="0.7" height="77.76" fill="#7cbf84" opacity="0.7"/>
<rect x="290.75" y="252.86" width="0.7" height="77.74" fill="#7cbf84" opacity="0.7"/>
<rect x="293.50" y="252.88" width="0.7" height="77.72" fill="#7cbf84" opacity="0.7"/>
<rect x="296.25" y="252.90" width="0.7" height="77.70" fill="#7cbf84" opacity="0.7"/>
<rect x="299.00" y="252.93" width="0.7" height="77.67" fill="#7cbf84" opacity="0.7"/>
<rect x="301.75" y="252.95" width="0.7" height="77.65" fill="#7cbf84" opacity="0.7"/>
<rect x="304.50" y="252.97" width="0.7" height="77.63" fill="#7cbf84" opacity="0.7"/>
<rect x="307.25" y="252.99" width="0.7" height="77.61" fill="#7cbf84" opacity="0.7"/>
<rect x="310.00" y="253.01" width="0.7" height="77.59" fill="#7cbf84" opacity="0.7"/>
<rect x="312.75" y="253.04" width="0.7" height="77.56" fill="#7cbf84" opacity="0.7"/>
<rect x="315.50" y="253.06" width="0.7" height="77.54" fill="#7cbf84" opacity="0.7"/>
<rect x="318.25" y="253.08" width="0.7" height="77.52" fill="#7cbf84" opacity="0.7"/>
<rect x="321.00" y="253.10" width="0.7" height="77.50" fill="#7cbf84" opacity="0.7"/>
<rect x="323.75" y="253.12" width="0.7" height="77.48" fill="#7cbf84" opacity="0.7"/>
<rect x="326.50" y="253.15" width="0.7" height="77.45" fill="#7cbf84" opacity="0.7"/>
<rect x="329.25" y="253.17" width="0.7" height="77.43" fill="#7cbf84" opacity="0.7"/>
<rect x="332.00" y="253.19" width="0.7" height="77.41" fill="#7cbf84" opacity="0.7"/>
<rect x="334.75" y="253.21" width="0.7" height="77.39" fill="#7cbf84" opacity="0.7"/>
<rect x="337.50" y="253.23" width="0.7" height="77.37" fill="#7cbf84" opacity="0.7"/>
<rect x="340.25" y="253.26" width="0.7" height="77.34" fill="#7cbf84" opacity="0.7"/>
<rect x="343.00" y="253.28" width="0.7" height="77.32" fill="#7cbf84" opacity="0.7"/>
<rect x="345.75" y="253.30" width="0.7" height="77.30" fill="#7cbf84" opacity="0.7"/>
<rect x="348.50" y="253.32" width="0.7" height="77.28" fill="#7cbf84" opacity="0.7"/>
<rect x="351.25" y="253.34" width="0.7" height="77.26" fill="#7cbf84" opacity="0.7"/>
<rect x="354.00" y="253.36" width="0.7" height="77.24" fill="#7cbf84" opacity="0.7"/>
<rect x="356.75" y="253.39" width="0.7" height="77.21" fill="#7cbf84" opacity="0.7"/>
<rect x="359.50" y="253.41" width="0.7" height="77.19" fill="#7cbf84" opacity="0.7"/>
<rect x="362.25" y="253.43" width="0.7" height="77.17" fill="#7cbf84" opacity="0.7"/>
<rect x="365.00" y="253.45" width="0.7" height="77.15" fill="#7cbf84" opacity="0.7"/>
<rect x="367.75" y="253.47" width="0.7" height="77.13" fill="#7cbf84" opacity="0.7"/>
<rect x="370.50" y="253.50" width="0.7" height="77.10" fill="#7cbf84" opacity="0.7"/>
<rect x="373.25" y="253.52" width="0.7" height="77.08" fill="#7cbf84" opacity="0.7"/>
<rect x="376.00" y="253.54" width="0.7" height="77.06" fill="#7cbf84" opacity="0.7"/>
<rect x="378.75" y="253.56" width="0.7" height="77.04" fill="#7cbf84" opacity="0.7"/>
<rect x="381.50" y="253.58" width="0.7" height="77.02" fill="#7cbf84" opacity="0.7"/>
<rect x="220.4" y="248.0" width="163.2" height="86.9" fill="none" stroke="#9a9a9a" stroke-width="0.7"/>
<rect x="385.4" y="248.0" width="81.8" height="86.8" fill="#fff" stroke="#9a9a9a" stroke-width="0.7"/>
<polyline points="385.60,253.40 385.80,253.40 386.00,253.40 386.20,253.40 386.40,253.40 386.60,253.40 386.80,253.40 387.00,253.40 387.20,253.40 387.40,253.40 387.60,253.40 387.80,253.40 388.00,253.40 388.20,253.40 388.40,253.40 388.60,253.40 388.80,272.51 389.00,297.67 389.20,311.87 389.40,319.89 389.60,324.42 389.80,326.98 390.00,328.43 390.20,329.24 390.40,329.70 390.60,329.96 390.80,330.11 391.00,330.19 391.20,330.24 391.40,330.27 391.60,330.28 391.80,330.29 392.00,330.29 392.20,330.30 392.40,330.30 392.60,330.30 392.80,330.30 393.00,330.30 393.20,330.30 393.40,330.30 393.60,330.30 393.80,330.30 394.00,330.30 394.20,330.30 394.40,330.30 394.60,330.30 394.80,330.30 395.00,330.30 395.20,330.30 395.40,330.30 395.60,330.30 395.80,330.30 396.00,330.30 396.20,330.30 396.40,330.30 396.60,330.30 396.80,330.30 397.00,330.30 397.20,330.30 397.40,330.30 397.60,330.30 397.80,330.30 398.00,330.30 398.20,330.30 398.40,330.30 398.60,297.64 398.80,279.15 399.00,268.65 399.20,262.68 399.40,259.27 399.60,257.30 399.80,256.15 400.00,255.46 400.20,255.04 400.40,254.78 400.60,254.60 400.80,254.47 401.00,254.37 401.20,254.29 401.40,254.22 401.60,254.17 401.80,254.11 402.00,254.07 402.20,254.02 402.40,253.98 402.60,253.94 402.80,253.91 403.00,253.87 403.20,253.84 403.40,253.82 403.60,253.79 403.80,253.76 404.00,253.74 404.20,253.72 404.40,253.70 404.60,253.68 404.80,253.66 405.00,253.64 405.20,253.63 405.40,253.61 405.60,253.60 405.80,253.59 406.00,253.57 406.20,253.56 406.40,253.55 406.60,253.54 406.80,253.53 407.00,253.53 407.20,253.52 407.40,253.51 407.60,272.51 407.80,297.67 408.00,311.87 408.20,319.89 408.40,324.42 408.60,326.98 408.80,328.43 409.00,329.24 409.20,329.70 409.40,329.96 409.60,330.11 409.80,330.19 410.00,330.24 410.20,330.27 410.40,330.28 410.60,330.29 410.80,330.29 411.00,330.30 411.20,330.30 411.40,330.30 411.60,330.30 411.80,330.30 412.00,330.30 412.20,330.30 412.40,330.30 412.60,330.30 412.80,330.30 413.00,330.30 413.20,330.30 413.40,330.30 413.60,330.30 413.80,330.30 414.00,330.30 414.20,330.30 414.40,330.30 414.60,330.30 414.80,330.30 415.00,330.30 415.20,330.30 415.40,330.30 415.60,330.30 415.80,330.30 416.00,330.30 416.20,330.30 416.40,330.30 416.60,311.66 416.80,287.09 417.00,273.16 417.20,265.25 417.40,260.74 417.60,258.15 417.80,256.65 418.00,255.76 418.20,255.23 418.40,254.90 418.60,254.68 418.80,254.53 419.00,254.42 419.20,254.33 419.40,254.26 419.60,254.19 419.80,254.14 420.00,254.09 420.20,254.04 420.40,254.00 420.60,253.96 420.80,253.93 421.00,253.89 421.20,253.86 421.40,253.83 421.60,253.80 421.80,253.78 422.00,253.75 422.20,253.73 422.40,253.71 422.60,253.69 422.80,253.67 423.00,253.65 423.20,253.64 423.40,253.62 423.60,253.61 423.80,253.59 424.00,253.58 424.20,253.57 424.40,253.56 424.60,253.55 424.80,253.54 425.00,253.53 425.20,253.52 425.40,253.51 425.60,253.51 425.80,286.87 426.00,305.78 426.20,316.45 426.40,322.48 426.60,325.88 426.80,327.81 427.00,328.89 427.20,329.50 427.40,329.85 427.60,330.05 427.80,330.16 428.00,330.22 428.20,330.25 428.40,330.27 428.60,330.29 428.80,330.29 429.00,330.30 429.20,330.30 429.40,330.30 429.60,330.30 429.80,330.30 430.00,330.30 430.20,330.30 430.40,330.30 430.60,330.30 430.80,330.30 431.00,330.30 431.20,330.30 431.40,330.30 431.60,330.30 431.80,330.30 432.00,330.30 432.20,330.30 432.40,330.30 432.60,330.30 432.80,330.30 433.00,330.30 433.20,330.30 433.40,330.30 433.60,330.30 433.80,330.30 434.00,330.30 434.20,330.30 434.40,330.30 434.60,330.30 434.80,311.66 435.00,287.09 435.20,273.16 435.40,265.25 435.60,260.74 435.80,258.15 436.00,256.65 436.20,255.76 436.40,255.23 436.60,254.90 436.80,254.68 437.00,254.53 437.20,254.42 437.40,254.33 437.60,254.26 437.80,254.19 438.00,254.14 438.20,254.09 438.40,254.04 438.60,254.00 438.80,253.96 439.00,253.93 439.20,253.89 439.40,253.86 439.60,253.83 439.80,253.80 440.00,253.78 440.20,253.75 440.40,253.73 440.60,253.71 440.80,253.69 441.00,253.67 441.20,253.65 441.40,253.64 441.60,253.62 441.80,253.61 442.00,253.59 442.20,253.58 442.40,253.57 442.60,253.56 442.80,253.55 443.00,253.54 443.20,253.53 443.40,253.52 443.60,253.51 443.80,286.87 444.00,305.78 444.20,316.45 444.40,322.48 444.60,325.88 444.80,327.81 445.00,328.89 445.20,329.50 445.40,329.85 445.60,330.05 445.80,330.16 446.00,330.22 446.20,330.25 446.40,330.27 446.60,330.29 446.80,330.29 447.00,330.30 447.20,330.30 447.40,330.30 447.60,330.30 447.80,330.30 448.00,330.30 448.20,330.30 448.40,330.30 448.60,330.30 448.80,330.30 449.00,330.30 449.20,330.30 449.40,330.30 449.60,330.30 449.80,330.30 450.00,330.30 450.20,330.30 450.40,330.30 450.60,330.30 450.80,330.30 451.00,330.30 451.20,330.30 451.40,330.30 451.60,330.30 451.80,330.30 452.00,330.30 452.20,330.30 452.40,330.30 452.60,330.30 452.80,330.30 453.00,297.64 453.20,279.15 453.40,268.65 453.60,262.68 453.80,259.27 454.00,257.30 454.20,256.15 454.40,255.46 454.60,255.04 454.80,254.78 455.00,254.60 455.20,254.47 455.40,254.37 455.60,254.29 455.80,254.22 456.00,254.17 456.20,254.11 456.40,254.07 456.60,254.02 456.80,253.98 457.00,253.94 457.20,253.91 457.40,253.87 457.60,253.84 457.80,253.82 458.00,253.79 458.20,253.76 458.40,253.74 458.60,253.72 458.80,253.70 459.00,253.68 459.20,253.66 459.40,253.64 459.60,253.63 459.80,253.61 460.00,253.60 460.20,253.59 460.40,253.57 460.60,253.56 460.80,253.55 461.00,253.54 461.20,253.53 461.40,253.53 461.60,253.52 461.80,253.51 462.00,272.51 462.20,297.67 462.40,311.87 462.60,319.89 462.80,324.42 463.00,326.98 463.20,328.43 463.40,329.24 463.60,329.70 463.80,329.96 464.00,330.11 464.20,330.19 464.40,330.24 464.60,330.27 464.80,330.28 465.00,330.29 465.20,330.29 465.40,330.30 465.60,330.30 465.80,330.30 466.00,330.30 466.20,330.30 466.40,330.30 466.60,330.30 466.80,330.30" fill="none" stroke="#55b25a" stroke-width="0.9" />
<text x="219.50" y="211.80" font-family="'Liberation Sans', sans-serif" font-size="8.5" fill="#333" text-anchor="end" textLength="9.60" lengthAdjust="spacingAndGlyphs" >0.5</text>
<text x="219.50" y="238.20" font-family="'Liberation Sans', sans-serif" font-size="8.5" fill="#333" text-anchor="end" textLength="9.60" lengthAdjust="spacingAndGlyphs" >0.0</text>
<text x="219.50" y="256.70" font-family="'Liberation Sans', sans-serif" font-size="8.5" fill="#333" text-anchor="end" textLength="9.60" lengthAdjust="spacingAndGlyphs" >2.5</text>
<text x="219.50" y="273.40" font-family="'Liberation Sans', sans-serif" font-size="8.5" fill="#333" text-anchor="end" textLength="9.60" lengthAdjust="spacingAndGlyphs" >2.0</text>
<text x="219.50" y="290.10" font-family="'Liberation Sans', sans-serif" font-size="8.5" fill="#333" text-anchor="end" textLength="9.60" lengthAdjust="spacingAndGlyphs" >1.5</text>
<text x="219.50" y="306.80" font-family="'Liberation Sans', sans-serif" font-size="8.5" fill="#333" text-anchor="end" textLength="9.60" lengthAdjust="spacingAndGlyphs" >1.0</text>
<text x="219.50" y="323.50" font-family="'Liberation Sans', sans-serif" font-size="8.5" fill="#333" text-anchor="end" textLength="9.60" lengthAdjust="spacingAndGlyphs" >0.5</text>
<text x="205.60" y="220.80" font-family="'Liberation Sans', sans-serif" font-size="10" fill="#222" text-anchor="middle" textLength="26.20" lengthAdjust="spacingAndGlyphs" transform="rotate(-90 205.60 220.80)" >V<tspan font-size="7" dy="1.3">g</tspan><tspan dy="-1.3"> ( V)</tspan></text>
<text x="206.20" y="291.40" font-family="'Liberation Sans', sans-serif" font-size="10" fill="#222" text-anchor="middle" transform="rotate(-90 206.20 291.40)" >I<tspan font-size="7" dy="2">d</tspan><tspan dy="-2"> (mA)</tspan></text>
<text x="220.40" y="341.70" font-family="'Liberation Sans', sans-serif" font-size="7" fill="#333" text-anchor="middle" textLength="3.90" lengthAdjust="spacingAndGlyphs" >0</text>
<text x="257.20" y="341.70" font-family="'Liberation Sans', sans-serif" font-size="7" fill="#333" text-anchor="middle" textLength="11.70" lengthAdjust="spacingAndGlyphs" >200</text>
<text x="293.70" y="341.70" font-family="'Liberation Sans', sans-serif" font-size="7" fill="#333" text-anchor="middle" textLength="11.70" lengthAdjust="spacingAndGlyphs" >400</text>
<text x="330.50" y="341.70" font-family="'Liberation Sans', sans-serif" font-size="7" fill="#333" text-anchor="middle" textLength="11.70" lengthAdjust="spacingAndGlyphs" >600</text>
<text x="367.30" y="341.70" font-family="'Liberation Sans', sans-serif" font-size="7" fill="#333" text-anchor="middle" textLength="11.70" lengthAdjust="spacingAndGlyphs" >800</text>
<text x="405.30" y="341.70" font-family="'Liberation Sans', sans-serif" font-size="7" fill="#333" text-anchor="middle" textLength="11.70" lengthAdjust="spacingAndGlyphs" >860</text>
<text x="446.60" y="341.70" font-family="'Liberation Sans', sans-serif" font-size="7" fill="#333" text-anchor="middle" textLength="11.70" lengthAdjust="spacingAndGlyphs" >880</text>
<text x="302.30" y="350.40" font-family="'Liberation Sans', sans-serif" font-size="9" fill="#1a1a1a" text-anchor="middle" textLength="31.70" lengthAdjust="spacingAndGlyphs" >Time (s)</text>
<text x="426.10" y="350.20" font-family="'Liberation Sans', sans-serif" font-size="9" fill="#1a1a1a" text-anchor="middle" textLength="31.40" lengthAdjust="spacingAndGlyphs" >Time (s)</text>
<text x="474.60" y="190.80" font-family="'Liberation Sans', sans-serif" font-size="16.5" fill="#000" font-weight="bold" >(f)</text>
<rect x="494.4" y="204.9" width="164.89999999999998" height="128.49999999999997" fill="#fff" stroke="#a8a8a8" stroke-width="0.8"/>
<line x1="494.40" y1="208.44" x2="496.20" y2="208.44" stroke="#a8a8a8" stroke-width="0.6" />
<line x1="657.50" y1="208.44" x2="659.30" y2="208.44" stroke="#a8a8a8" stroke-width="0.6" />
<text x="492.80" y="211.54" font-family="'Liberation Sans', sans-serif" font-size="8.5" fill="#333" text-anchor="end" textLength="12.20" lengthAdjust="spacingAndGlyphs" >−16</text>
<line x1="494.40" y1="223.36" x2="496.20" y2="223.36" stroke="#a8a8a8" stroke-width="0.6" />
<line x1="657.50" y1="223.36" x2="659.30" y2="223.36" stroke="#a8a8a8" stroke-width="0.6" />
<text x="492.80" y="226.46" font-family="'Liberation Sans', sans-serif" font-size="8.5" fill="#333" text-anchor="end" textLength="12.20" lengthAdjust="spacingAndGlyphs" >−14</text>
<line x1="494.40" y1="238.28" x2="496.20" y2="238.28" stroke="#a8a8a8" stroke-width="0.6" />
<line x1="657.50" y1="238.28" x2="659.30" y2="238.28" stroke="#a8a8a8" stroke-width="0.6" />
<text x="492.80" y="241.38" font-family="'Liberation Sans', sans-serif" font-size="8.5" fill="#333" text-anchor="end" textLength="12.20" lengthAdjust="spacingAndGlyphs" >−12</text>
<line x1="494.40" y1="253.20" x2="496.20" y2="253.20" stroke="#a8a8a8" stroke-width="0.6" />
<line x1="657.50" y1="253.20" x2="659.30" y2="253.20" stroke="#a8a8a8" stroke-width="0.6" />
<text x="492.80" y="256.30" font-family="'Liberation Sans', sans-serif" font-size="8.5" fill="#333" text-anchor="end" textLength="12.20" lengthAdjust="spacingAndGlyphs" >−10</text>
<line x1="494.40" y1="268.12" x2="496.20" y2="268.12" stroke="#a8a8a8" stroke-width="0.6" />
<line x1="657.50" y1="268.12" x2="659.30" y2="268.12" stroke="#a8a8a8" stroke-width="0.6" />
<text x="492.80" y="271.22" font-family="'Liberation Sans', sans-serif" font-size="8.5" fill="#333" text-anchor="end" textLength="8.60" lengthAdjust="spacingAndGlyphs" >−8</text>
<line x1="494.40" y1="283.04" x2="496.20" y2="283.04" stroke="#a8a8a8" stroke-width="0.6" />
<line x1="657.50" y1="283.04" x2="659.30" y2="283.04" stroke="#a8a8a8" stroke-width="0.6" />
<text x="492.80" y="286.14" font-family="'Liberation Sans', sans-serif" font-size="8.5" fill="#333" text-anchor="end" textLength="8.60" lengthAdjust="spacingAndGlyphs" >−6</text>
<line x1="494.40" y1="297.96" x2="496.20" y2="297.96" stroke="#a8a8a8" stroke-width="0.6" />
<line x1="657.50" y1="297.96" x2="659.30" y2="297.96" stroke="#a8a8a8" stroke-width="0.6" />
<text x="492.80" y="301.06" font-family="'Liberation Sans', sans-serif" font-size="8.5" fill="#333" text-anchor="end" textLength="8.60" lengthAdjust="spacingAndGlyphs" >−4</text>
<line x1="494.40" y1="312.88" x2="496.20" y2="312.88" stroke="#a8a8a8" stroke-width="0.6" />
<line x1="657.50" y1="312.88" x2="659.30" y2="312.88" stroke="#a8a8a8" stroke-width="0.6" />
<text x="492.80" y="315.98" font-family="'Liberation Sans', sans-serif" font-size="8.5" fill="#333" text-anchor="end" textLength="8.60" lengthAdjust="spacingAndGlyphs" >−2</text>
<line x1="494.40" y1="327.80" x2="496.20" y2="327.80" stroke="#a8a8a8" stroke-width="0.6" />
<line x1="657.50" y1="327.80" x2="659.30" y2="327.80" stroke="#a8a8a8" stroke-width="0.6" />
<text x="492.80" y="330.90" font-family="'Liberation Sans', sans-serif" font-size="8.5" fill="#333" text-anchor="end" textLength="4.60" lengthAdjust="spacingAndGlyphs" >0</text>
<line x1="493.60" y1="333.40" x2="493.60" y2="331.60" stroke="#a8a8a8" stroke-width="0.6" />
<line x1="493.60" y1="204.90" x2="493.60" y2="206.70" stroke="#a8a8a8" stroke-width="0.6" />
<text x="493.60" y="340.30" font-family="'Liberation Sans', sans-serif" font-size="8" fill="#333" text-anchor="middle" textLength="11.30" lengthAdjust="spacingAndGlyphs" >0.0</text>
<line x1="523.78" y1="333.40" x2="523.78" y2="331.60" stroke="#a8a8a8" stroke-width="0.6" />
<line x1="523.78" y1="204.90" x2="523.78" y2="206.70" stroke="#a8a8a8" stroke-width="0.6" />
<text x="523.78" y="340.30" font-family="'Liberation Sans', sans-serif" font-size="8" fill="#333" text-anchor="middle" textLength="11.30" lengthAdjust="spacingAndGlyphs" >0.1</text>
<line x1="553.96" y1="333.40" x2="553.96" y2="331.60" stroke="#a8a8a8" stroke-width="0.6" />
<line x1="553.96" y1="204.90" x2="553.96" y2="206.70" stroke="#a8a8a8" stroke-width="0.6" />
<text x="553.96" y="340.30" font-family="'Liberation Sans', sans-serif" font-size="8" fill="#333" text-anchor="middle" textLength="11.30" lengthAdjust="spacingAndGlyphs" >0.2</text>
<line x1="584.14" y1="333.40" x2="584.14" y2="331.60" stroke="#a8a8a8" stroke-width="0.6" />
<line x1="584.14" y1="204.90" x2="584.14" y2="206.70" stroke="#a8a8a8" stroke-width="0.6" />
<text x="584.14" y="340.30" font-family="'Liberation Sans', sans-serif" font-size="8" fill="#333" text-anchor="middle" textLength="11.30" lengthAdjust="spacingAndGlyphs" >0.3</text>
<line x1="614.32" y1="333.40" x2="614.32" y2="331.60" stroke="#a8a8a8" stroke-width="0.6" />
<line x1="614.32" y1="204.90" x2="614.32" y2="206.70" stroke="#a8a8a8" stroke-width="0.6" />
<text x="614.32" y="340.30" font-family="'Liberation Sans', sans-serif" font-size="8" fill="#333" text-anchor="middle" textLength="11.30" lengthAdjust="spacingAndGlyphs" >0.4</text>
<line x1="644.50" y1="333.40" x2="644.50" y2="331.60" stroke="#a8a8a8" stroke-width="0.6" />
<line x1="644.50" y1="204.90" x2="644.50" y2="206.70" stroke="#a8a8a8" stroke-width="0.6" />
<text x="644.50" y="340.30" font-family="'Liberation Sans', sans-serif" font-size="8" fill="#333" text-anchor="middle" textLength="11.30" lengthAdjust="spacingAndGlyphs" >0.5</text>
<text x="476.20" y="268.90" font-family="'Liberation Sans', sans-serif" font-size="10" fill="#222" text-anchor="middle" transform="rotate(-90 476.20 268.90)" >I<tspan font-size="7" dy="2">d</tspan><tspan dy="-2"> (µA)</tspan></text>
<text x="558.00" y="349.60" font-family="'Liberation Sans', sans-serif" font-size="9.2" fill="#222" textLength="40.20" lengthAdjust="spacingAndGlyphs" >V<tspan font-size="6.8" dy="1.8">g</tspan><tspan dy="-1.8"> (1) ( V)</tspan></text>
<defs><radialGradient id="sp0" cx="0.42" cy="0.36" r="0.66" fx="0.38" fy="0.3"><stop offset="0" stop-color="#ffffff" stop-opacity="0.95"/><stop offset="0.16" stop-color="#62c84c"/><stop offset="0.75" stop-color="#62c84c"/><stop offset="1" stop-color="#469036"/></radialGradient><radialGradient id="sp1" cx="0.42" cy="0.36" r="0.66" fx="0.38" fy="0.3"><stop offset="0" stop-color="#ffffff" stop-opacity="0.95"/><stop offset="0.16" stop-color="#5cc24a"/><stop offset="0.75" stop-color="#5cc24a"/><stop offset="1" stop-color="#428b35"/></radialGradient><radialGradient id="sp2" cx="0.42" cy="0.36" r="0.66" fx="0.38" fy="0.3"><stop offset="0" stop-color="#ffffff" stop-opacity="0.95"/><stop offset="0.16" stop-color="#58b844"/><stop offset="0.75" stop-color="#58b844"/><stop offset="1" stop-color="#3f8430"/></radialGradient><radialGradient id="sp3" cx="0.42" cy="0.36" r="0.66" fx="0.38" fy="0.3"><stop offset="0" stop-color="#ffffff" stop-opacity="0.95"/><stop offset="0.16" stop-color="#6e9a3a"/><stop offset="0.75" stop-color="#6e9a3a"/><stop offset="1" stop-color="#4f6e29"/></radialGradient><radialGradient id="sp4" cx="0.42" cy="0.36" r="0.66" fx="0.38" fy="0.3"><stop offset="0" stop-color="#ffffff" stop-opacity="0.95"/><stop offset="0.16" stop-color="#82862a"/><stop offset="0.75" stop-color="#82862a"/><stop offset="1" stop-color="#5d601e"/></radialGradient><radialGradient id="sp5" cx="0.42" cy="0.36" r="0.66" fx="0.38" fy="0.3"><stop offset="0" stop-color="#ffffff" stop-opacity="0.95"/><stop offset="0.16" stop-color="#b8462a"/><stop offset="0.75" stop-color="#b8462a"/><stop offset="1" stop-color="#84321e"/></radialGradient><radialGradient id="sp6" cx="0.42" cy="0.36" r="0.66" fx="0.38" fy="0.3"><stop offset="0" stop-color="#ffffff" stop-opacity="0.95"/><stop offset="0.16" stop-color="#d8302a"/><stop offset="0.75" stop-color="#d8302a"/><stop offset="1" stop-color="#9b221e"/></radialGradient><radialGradient id="sp7" cx="0.42" cy="0.36" r="0.66" fx="0.38" fy="0.3"><stop offset="0" stop-color="#ffffff" stop-opacity="0.95"/><stop offset="0.16" stop-color="#e6262a"/><stop offset="0.75" stop-color="#e6262a"/><stop offset="1" stop-color="#a51b1e"/></radialGradient></defs>
<polyline points="493.60,323.18 499.64,323.87 505.67,323.48 511.71,324.00 517.74,323.97 523.78,322.44 529.82,321.83 535.85,322.88 541.89,320.45 547.92,318.85 553.96,318.50 560.00,314.90 566.03,312.64 572.07,308.33 578.10,304.46 584.14,298.75 590.18,294.11 596.21,288.25 602.25,280.76 608.28,273.31 614.32,264.66 620.36,254.70 626.39,245.04 632.43,233.77 638.46,221.61 644.50,208.63" fill="none" stroke="#62c84c" stroke-width="0.5" opacity="0.8"/>
<polyline points="493.60,324.60 499.64,323.71 505.67,324.27 511.71,324.63 517.74,324.18 523.78,324.41 529.82,322.78 535.85,322.98 541.89,321.17 547.92,320.86 553.96,318.96 560.00,315.10 566.03,312.53 572.07,309.54 578.10,307.25 584.14,301.98 590.18,297.43 596.21,291.39 602.25,285.54 608.28,278.52 614.32,270.92 620.36,262.83 626.39,253.72 632.43,243.96 638.46,233.09 644.50,221.47" fill="none" stroke="#5cc24a" stroke-width="0.5" opacity="0.8"/>
<polyline points="493.60,324.88 499.64,325.19 505.67,324.46 511.71,323.31 517.74,324.83 523.78,324.90 529.82,324.44 535.85,323.18 541.89,322.76 547.92,320.67 553.96,320.73 560.00,318.59 566.03,316.08 572.07,313.37 578.10,312.22 584.14,309.35 590.18,304.27 596.21,301.46 602.25,296.43 608.28,291.17 614.32,285.93 620.36,280.41 626.39,273.89 632.43,266.28 638.46,258.82 644.50,250.46" fill="none" stroke="#58b844" stroke-width="0.5" opacity="0.8"/>
<polyline points="493.60,324.87 499.64,323.99 505.67,325.24 511.71,325.46 517.74,324.39 523.78,325.51 529.82,323.67 535.85,322.46 541.89,322.58 547.92,320.00 553.96,318.70 560.00,317.19 566.03,315.35 572.07,311.99 578.10,309.06 584.14,307.41 590.18,303.25 596.21,300.62 602.25,296.70 608.28,292.06 614.32,287.90 620.36,283.47 626.39,278.81 632.43,273.82 638.46,268.63 644.50,263.22" fill="none" stroke="#6e9a3a" stroke-width="0.5" opacity="0.8"/>
<polyline points="493.60,325.83 499.64,324.84 505.67,324.67 511.71,325.33 517.74,324.23 523.78,324.38 529.82,325.88 535.85,324.74 541.89,324.60 547.92,323.09 553.96,323.55 560.00,323.33 566.03,321.46 572.07,321.82 578.10,320.83 584.14,318.62 590.18,318.31 596.21,316.54 602.25,315.19 608.28,312.91 614.32,311.30 620.36,309.09 626.39,306.15 632.43,303.70 638.46,301.19 644.50,298.18" fill="none" stroke="#82862a" stroke-width="0.5" opacity="0.8"/>
<polyline points="493.60,326.53 499.64,326.93 505.67,327.07 511.71,326.25 517.74,326.06 523.78,325.62 529.82,325.36 535.85,325.38 541.89,324.31 547.92,323.94 553.96,324.08 560.00,322.17 566.03,322.44 572.07,321.99 578.10,320.63 584.14,319.76 590.18,319.68 596.21,318.19 602.25,317.29 608.28,316.62 614.32,315.87 620.36,314.51 626.39,313.65 632.43,312.63 638.46,311.65 644.50,310.48" fill="none" stroke="#b8462a" stroke-width="0.5" opacity="0.8"/>
<polyline points="493.60,328.35 499.64,326.74 505.67,326.99 511.71,327.50 517.74,327.76 523.78,326.54 529.82,325.74 535.85,325.18 541.89,325.59 547.92,324.51 553.96,325.15 560.00,324.66 566.03,323.03 572.07,322.62 578.10,322.77 584.14,321.87 590.18,321.38 596.21,320.13 602.25,319.20 608.28,318.61 614.32,318.20 620.36,317.03 626.39,316.24 632.43,315.40 638.46,314.50 644.50,313.58" fill="none" stroke="#d8302a" stroke-width="0.5" opacity="0.8"/>
<polyline points="493.60,328.95 499.64,327.18 505.67,326.74 511.71,328.66 517.74,328.31 523.78,328.29 529.82,326.85 535.85,327.58 541.89,327.17 547.92,325.46 553.96,326.02 560.00,325.73 566.03,324.97 572.07,324.25 578.10,323.42 584.14,322.98 590.18,322.30 596.21,321.57 602.25,321.52 608.28,320.62 614.32,320.37 620.36,319.20 626.39,318.94 632.43,318.10 638.46,317.36 644.50,316.52" fill="none" stroke="#e6262a" stroke-width="0.5" opacity="0.8"/>
<clipPath id="fclip"><rect x="494.4" y="199.9" width="169.89999999999998" height="133.09999999999997"/></clipPath>
<g clip-path="url(#fclip)">
<circle cx="493.60" cy="328.95" r="3.15" fill="url(#sp7)"/>
<circle cx="499.64" cy="327.18" r="3.15" fill="url(#sp7)"/>
<circle cx="505.67" cy="326.74" r="3.15" fill="url(#sp7)"/>
<circle cx="511.71" cy="328.66" r="3.15" fill="url(#sp7)"/>
<circle cx="517.74" cy="328.31" r="3.15" fill="url(#sp7)"/>
<circle cx="523.78" cy="328.29" r="3.15" fill="url(#sp7)"/>
<circle cx="529.82" cy="326.85" r="3.15" fill="url(#sp7)"/>
<circle cx="535.85" cy="327.58" r="3.15" fill="url(#sp7)"/>
<circle cx="541.89" cy="327.17" r="3.15" fill="url(#sp7)"/>
<circle cx="547.92" cy="325.46" r="3.15" fill="url(#sp7)"/>
<circle cx="553.96" cy="326.02" r="3.15" fill="url(#sp7)"/>
<circle cx="560.00" cy="325.73" r="3.15" fill="url(#sp7)"/>
<circle cx="566.03" cy="324.97" r="3.15" fill="url(#sp7)"/>
<circle cx="572.07" cy="324.25" r="3.15" fill="url(#sp7)"/>
<circle cx="578.10" cy="323.42" r="3.15" fill="url(#sp7)"/>
<circle cx="584.14" cy="322.98" r="3.15" fill="url(#sp7)"/>
<circle cx="590.18" cy="322.30" r="3.15" fill="url(#sp7)"/>
<circle cx="596.21" cy="321.57" r="3.15" fill="url(#sp7)"/>
<circle cx="602.25" cy="321.52" r="3.15" fill="url(#sp7)"/>
<circle cx="608.28" cy="320.62" r="3.15" fill="url(#sp7)"/>
<circle cx="614.32" cy="320.37" r="3.15" fill="url(#sp7)"/>
<circle cx="620.36" cy="319.20" r="3.15" fill="url(#sp7)"/>
<circle cx="626.39" cy="318.94" r="3.15" fill="url(#sp7)"/>
<circle cx="632.43" cy="318.10" r="3.15" fill="url(#sp7)"/>
<circle cx="638.46" cy="317.36" r="3.15" fill="url(#sp7)"/>
<circle cx="644.50" cy="316.52" r="3.15" fill="url(#sp7)"/>
<circle cx="493.60" cy="328.35" r="3.15" fill="url(#sp6)"/>
<circle cx="499.64" cy="326.74" r="3.15" fill="url(#sp6)"/>
<circle cx="505.67" cy="326.99" r="3.15" fill="url(#sp6)"/>
<circle cx="511.71" cy="327.50" r="3.15" fill="url(#sp6)"/>
<circle cx="517.74" cy="327.76" r="3.15" fill="url(#sp6)"/>
<circle cx="523.78" cy="326.54" r="3.15" fill="url(#sp6)"/>
<circle cx="529.82" cy="325.74" r="3.15" fill="url(#sp6)"/>
<circle cx="535.85" cy="325.18" r="3.15" fill="url(#sp6)"/>
<circle cx="541.89" cy="325.59" r="3.15" fill="url(#sp6)"/>
<circle cx="547.92" cy="324.51" r="3.15" fill="url(#sp6)"/>
<circle cx="553.96" cy="325.15" r="3.15" fill="url(#sp6)"/>
<circle cx="560.00" cy="324.66" r="3.15" fill="url(#sp6)"/>
<circle cx="566.03" cy="323.03" r="3.15" fill="url(#sp6)"/>
<circle cx="572.07" cy="322.62" r="3.15" fill="url(#sp6)"/>
<circle cx="578.10" cy="322.77" r="3.15" fill="url(#sp6)"/>
<circle cx="584.14" cy="321.87" r="3.15" fill="url(#sp6)"/>
<circle cx="590.18" cy="321.38" r="3.15" fill="url(#sp6)"/>
<circle cx="596.21" cy="320.13" r="3.15" fill="url(#sp6)"/>
<circle cx="602.25" cy="319.20" r="3.15" fill="url(#sp6)"/>
<circle cx="608.28" cy="318.61" r="3.15" fill="url(#sp6)"/>
<circle cx="614.32" cy="318.20" r="3.15" fill="url(#sp6)"/>
<circle cx="620.36" cy="317.03" r="3.15" fill="url(#sp6)"/>
<circle cx="626.39" cy="316.24" r="3.15" fill="url(#sp6)"/>
<circle cx="632.43" cy="315.40" r="3.15" fill="url(#sp6)"/>
<circle cx="638.46" cy="314.50" r="3.15" fill="url(#sp6)"/>
<circle cx="644.50" cy="313.58" r="3.15" fill="url(#sp6)"/>
<circle cx="493.60" cy="326.53" r="3.15" fill="url(#sp5)"/>
<circle cx="499.64" cy="326.93" r="3.15" fill="url(#sp5)"/>
<circle cx="505.67" cy="327.07" r="3.15" fill="url(#sp5)"/>
<circle cx="511.71" cy="326.25" r="3.15" fill="url(#sp5)"/>
<circle cx="517.74" cy="326.06" r="3.15" fill="url(#sp5)"/>
<circle cx="523.78" cy="325.62" r="3.15" fill="url(#sp5)"/>
<circle cx="529.82" cy="325.36" r="3.15" fill="url(#sp5)"/>
<circle cx="535.85" cy="325.38" r="3.15" fill="url(#sp5)"/>
<circle cx="541.89" cy="324.31" r="3.15" fill="url(#sp5)"/>
<circle cx="547.92" cy="323.94" r="3.15" fill="url(#sp5)"/>
<circle cx="553.96" cy="324.08" r="3.15" fill="url(#sp5)"/>
<circle cx="560.00" cy="322.17" r="3.15" fill="url(#sp5)"/>
<circle cx="566.03" cy="322.44" r="3.15" fill="url(#sp5)"/>
<circle cx="572.07" cy="321.99" r="3.15" fill="url(#sp5)"/>
<circle cx="578.10" cy="320.63" r="3.15" fill="url(#sp5)"/>
<circle cx="584.14" cy="319.76" r="3.15" fill="url(#sp5)"/>
<circle cx="590.18" cy="319.68" r="3.15" fill="url(#sp5)"/>
<circle cx="596.21" cy="318.19" r="3.15" fill="url(#sp5)"/>
<circle cx="602.25" cy="317.29" r="3.15" fill="url(#sp5)"/>
<circle cx="608.28" cy="316.62" r="3.15" fill="url(#sp5)"/>
<circle cx="614.32" cy="315.87" r="3.15" fill="url(#sp5)"/>
<circle cx="620.36" cy="314.51" r="3.15" fill="url(#sp5)"/>
<circle cx="626.39" cy="313.65" r="3.15" fill="url(#sp5)"/>
<circle cx="632.43" cy="312.63" r="3.15" fill="url(#sp5)"/>
<circle cx="638.46" cy="311.65" r="3.15" fill="url(#sp5)"/>
<circle cx="644.50" cy="310.48" r="3.15" fill="url(#sp5)"/>
<circle cx="493.60" cy="325.83" r="3.15" fill="url(#sp4)"/>
<circle cx="499.64" cy="324.84" r="3.15" fill="url(#sp4)"/>
<circle cx="505.67" cy="324.67" r="3.15" fill="url(#sp4)"/>
<circle cx="511.71" cy="325.33" r="3.15" fill="url(#sp4)"/>
<circle cx="517.74" cy="324.23" r="3.15" fill="url(#sp4)"/>
<circle cx="523.78" cy="324.38" r="3.15" fill="url(#sp4)"/>
<circle cx="529.82" cy="325.88" r="3.15" fill="url(#sp4)"/>
<circle cx="535.85" cy="324.74" r="3.15" fill="url(#sp4)"/>
<circle cx="541.89" cy="324.60" r="3.15" fill="url(#sp4)"/>
<circle cx="547.92" cy="323.09" r="3.15" fill="url(#sp4)"/>
<circle cx="553.96" cy="323.55" r="3.15" fill="url(#sp4)"/>
<circle cx="560.00" cy="323.33" r="3.15" fill="url(#sp4)"/>
<circle cx="566.03" cy="321.46" r="3.15" fill="url(#sp4)"/>
<circle cx="572.07" cy="321.82" r="3.15" fill="url(#sp4)"/>
<circle cx="578.10" cy="320.83" r="3.15" fill="url(#sp4)"/>
<circle cx="584.14" cy="318.62" r="3.15" fill="url(#sp4)"/>
<circle cx="590.18" cy="318.31" r="3.15" fill="url(#sp4)"/>
<circle cx="596.21" cy="316.54" r="3.15" fill="url(#sp4)"/>
<circle cx="602.25" cy="315.19" r="3.15" fill="url(#sp4)"/>
<circle cx="608.28" cy="312.91" r="3.15" fill="url(#sp4)"/>
<circle cx="614.32" cy="311.30" r="3.15" fill="url(#sp4)"/>
<circle cx="620.36" cy="309.09" r="3.15" fill="url(#sp4)"/>
<circle cx="626.39" cy="306.15" r="3.15" fill="url(#sp4)"/>
<circle cx="632.43" cy="303.70" r="3.15" fill="url(#sp4)"/>
<circle cx="638.46" cy="301.19" r="3.15" fill="url(#sp4)"/>
<circle cx="644.50" cy="298.18" r="3.15" fill="url(#sp4)"/>
<circle cx="493.60" cy="324.87" r="3.15" fill="url(#sp3)"/>
<circle cx="499.64" cy="323.99" r="3.15" fill="url(#sp3)"/>
<circle cx="505.67" cy="325.24" r="3.15" fill="url(#sp3)"/>
<circle cx="511.71" cy="325.46" r="3.15" fill="url(#sp3)"/>
<circle cx="517.74" cy="324.39" r="3.15" fill="url(#sp3)"/>
<circle cx="523.78" cy="325.51" r="3.15" fill="url(#sp3)"/>
<circle cx="529.82" cy="323.67" r="3.15" fill="url(#sp3)"/>
<circle cx="535.85" cy="322.46" r="3.15" fill="url(#sp3)"/>
<circle cx="541.89" cy="322.58" r="3.15" fill="url(#sp3)"/>
<circle cx="547.92" cy="320.00" r="3.15" fill="url(#sp3)"/>
<circle cx="553.96" cy="318.70" r="3.15" fill="url(#sp3)"/>
<circle cx="560.00" cy="317.19" r="3.15" fill="url(#sp3)"/>
<circle cx="566.03" cy="315.35" r="3.15" fill="url(#sp3)"/>
<circle cx="572.07" cy="311.99" r="3.15" fill="url(#sp3)"/>
<circle cx="578.10" cy="309.06" r="3.15" fill="url(#sp3)"/>
<circle cx="584.14" cy="307.41" r="3.15" fill="url(#sp3)"/>
<circle cx="590.18" cy="303.25" r="3.15" fill="url(#sp3)"/>
<circle cx="596.21" cy="300.62" r="3.15" fill="url(#sp3)"/>
<circle cx="602.25" cy="296.70" r="3.15" fill="url(#sp3)"/>
<circle cx="608.28" cy="292.06" r="3.15" fill="url(#sp3)"/>
<circle cx="614.32" cy="287.90" r="3.15" fill="url(#sp3)"/>
<circle cx="620.36" cy="283.47" r="3.15" fill="url(#sp3)"/>
<circle cx="626.39" cy="278.81" r="3.15" fill="url(#sp3)"/>
<circle cx="632.43" cy="273.82" r="3.15" fill="url(#sp3)"/>
<circle cx="638.46" cy="268.63" r="3.15" fill="url(#sp3)"/>
<circle cx="644.50" cy="263.22" r="3.15" fill="url(#sp3)"/>
<circle cx="493.60" cy="324.88" r="3.15" fill="url(#sp2)"/>
<circle cx="499.64" cy="325.19" r="3.15" fill="url(#sp2)"/>
<circle cx="505.67" cy="324.46" r="3.15" fill="url(#sp2)"/>
<circle cx="511.71" cy="323.31" r="3.15" fill="url(#sp2)"/>
<circle cx="517.74" cy="324.83" r="3.15" fill="url(#sp2)"/>
<circle cx="523.78" cy="324.90" r="3.15" fill="url(#sp2)"/>
<circle cx="529.82" cy="324.44" r="3.15" fill="url(#sp2)"/>
<circle cx="535.85" cy="323.18" r="3.15" fill="url(#sp2)"/>
<circle cx="541.89" cy="322.76" r="3.15" fill="url(#sp2)"/>
<circle cx="547.92" cy="320.67" r="3.15" fill="url(#sp2)"/>
<circle cx="553.96" cy="320.73" r="3.15" fill="url(#sp2)"/>
<circle cx="560.00" cy="318.59" r="3.15" fill="url(#sp2)"/>
<circle cx="566.03" cy="316.08" r="3.15" fill="url(#sp2)"/>
<circle cx="572.07" cy="313.37" r="3.15" fill="url(#sp2)"/>
<circle cx="578.10" cy="312.22" r="3.15" fill="url(#sp2)"/>
<circle cx="584.14" cy="309.35" r="3.15" fill="url(#sp2)"/>
<circle cx="590.18" cy="304.27" r="3.15" fill="url(#sp2)"/>
<circle cx="596.21" cy="301.46" r="3.15" fill="url(#sp2)"/>
<circle cx="602.25" cy="296.43" r="3.15" fill="url(#sp2)"/>
<circle cx="608.28" cy="291.17" r="3.15" fill="url(#sp2)"/>
<circle cx="614.32" cy="285.93" r="3.15" fill="url(#sp2)"/>
<circle cx="620.36" cy="280.41" r="3.15" fill="url(#sp2)"/>
<circle cx="626.39" cy="273.89" r="3.15" fill="url(#sp2)"/>
<circle cx="632.43" cy="266.28" r="3.15" fill="url(#sp2)"/>
<circle cx="638.46" cy="258.82" r="3.15" fill="url(#sp2)"/>
<circle cx="644.50" cy="250.46" r="3.15" fill="url(#sp2)"/>
<circle cx="493.60" cy="324.60" r="3.15" fill="url(#sp1)"/>
<circle cx="499.64" cy="323.71" r="3.15" fill="url(#sp1)"/>
<circle cx="505.67" cy="324.27" r="3.15" fill="url(#sp1)"/>
<circle cx="511.71" cy="324.63" r="3.15" fill="url(#sp1)"/>
<circle cx="517.74" cy="324.18" r="3.15" fill="url(#sp1)"/>
<circle cx="523.78" cy="324.41" r="3.15" fill="url(#sp1)"/>
<circle cx="529.82" cy="322.78" r="3.15" fill="url(#sp1)"/>
<circle cx="535.85" cy="322.98" r="3.15" fill="url(#sp1)"/>
<circle cx="541.89" cy="321.17" r="3.15" fill="url(#sp1)"/>
<circle cx="547.92" cy="320.86" r="3.15" fill="url(#sp1)"/>
<circle cx="553.96" cy="318.96" r="3.15" fill="url(#sp1)"/>
<circle cx="560.00" cy="315.10" r="3.15" fill="url(#sp1)"/>
<circle cx="566.03" cy="312.53" r="3.15" fill="url(#sp1)"/>
<circle cx="572.07" cy="309.54" r="3.15" fill="url(#sp1)"/>
<circle cx="578.10" cy="307.25" r="3.15" fill="url(#sp1)"/>
<circle cx="584.14" cy="301.98" r="3.15" fill="url(#sp1)"/>
<circle cx="590.18" cy="297.43" r="3.15" fill="url(#sp1)"/>
<circle cx="596.21" cy="291.39" r="3.15" fill="url(#sp1)"/>
<circle cx="602.25" cy="285.54" r="3.15" fill="url(#sp1)"/>
<circle cx="608.28" cy="278.52" r="3.15" fill="url(#sp1)"/>
<circle cx="614.32" cy="270.92" r="3.15" fill="url(#sp1)"/>
<circle cx="620.36" cy="262.83" r="3.15" fill="url(#sp1)"/>
<circle cx="626.39" cy="253.72" r="3.15" fill="url(#sp1)"/>
<circle cx="632.43" cy="243.96" r="3.15" fill="url(#sp1)"/>
<circle cx="638.46" cy="233.09" r="3.15" fill="url(#sp1)"/>
<circle cx="644.50" cy="221.47" r="3.15" fill="url(#sp1)"/>
<circle cx="493.60" cy="323.18" r="3.15" fill="url(#sp0)"/>
<circle cx="499.64" cy="323.87" r="3.15" fill="url(#sp0)"/>
<circle cx="505.67" cy="323.48" r="3.15" fill="url(#sp0)"/>
<circle cx="511.71" cy="324.00" r="3.15" fill="url(#sp0)"/>
<circle cx="517.74" cy="323.97" r="3.15" fill="url(#sp0)"/>
<circle cx="523.78" cy="322.44" r="3.15" fill="url(#sp0)"/>
<circle cx="529.82" cy="321.83" r="3.15" fill="url(#sp0)"/>
<circle cx="535.85" cy="322.88" r="3.15" fill="url(#sp0)"/>
<circle cx="541.89" cy="320.45" r="3.15" fill="url(#sp0)"/>
<circle cx="547.92" cy="318.85" r="3.15" fill="url(#sp0)"/>
<circle cx="553.96" cy="318.50" r="3.15" fill="url(#sp0)"/>
<circle cx="560.00" cy="314.90" r="3.15" fill="url(#sp0)"/>
<circle cx="566.03" cy="312.64" r="3.15" fill="url(#sp0)"/>
<circle cx="572.07" cy="308.33" r="3.15" fill="url(#sp0)"/>
<circle cx="578.10" cy="304.46" r="3.15" fill="url(#sp0)"/>
<circle cx="584.14" cy="298.75" r="3.15" fill="url(#sp0)"/>
<circle cx="590.18" cy="294.11" r="3.15" fill="url(#sp0)"/>
<circle cx="596.21" cy="288.25" r="3.15" fill="url(#sp0)"/>
<circle cx="602.25" cy="280.76" r="3.15" fill="url(#sp0)"/>
<circle cx="608.28" cy="273.31" r="3.15" fill="url(#sp0)"/>
<circle cx="614.32" cy="264.66" r="3.15" fill="url(#sp0)"/>
<circle cx="620.36" cy="254.70" r="3.15" fill="url(#sp0)"/>
<circle cx="626.39" cy="245.04" r="3.15" fill="url(#sp0)"/>
<circle cx="632.43" cy="233.77" r="3.15" fill="url(#sp0)"/>
<circle cx="638.46" cy="221.61" r="3.15" fill="url(#sp0)"/>
<circle cx="644.50" cy="208.63" r="3.15" fill="url(#sp0)"/>
</g>
<rect x="518.2" y="207.1" width="77.59999999999991" height="73.70000000000002" fill="#fff" stroke="#a8a8a8" stroke-width="0.6"/>
<line x1="518.20" y1="209.78" x2="519.40" y2="209.78" stroke="#a8a8a8" stroke-width="0.5" />
<text x="516.80" y="211.38" font-family="'Liberation Sans', sans-serif" font-size="4.5" fill="#444" text-anchor="end" >−16</text>
<line x1="518.20" y1="219.32" x2="519.40" y2="219.32" stroke="#a8a8a8" stroke-width="0.5" />
<text x="516.80" y="220.92" font-family="'Liberation Sans', sans-serif" font-size="4.5" fill="#444" text-anchor="end" >−14</text>
<line x1="518.20" y1="228.86" x2="519.40" y2="228.86" stroke="#a8a8a8" stroke-width="0.5" />
<text x="516.80" y="230.46" font-family="'Liberation Sans', sans-serif" font-size="4.5" fill="#444" text-anchor="end" >−12</text>
<line x1="518.20" y1="238.40" x2="519.40" y2="238.40" stroke="#a8a8a8" stroke-width="0.5" />
<text x="516.80" y="240.00" font-family="'Liberation Sans', sans-serif" font-size="4.5" fill="#444" text-anchor="end" >−10</text>
<line x1="518.20" y1="247.94" x2="519.40" y2="247.94" stroke="#a8a8a8" stroke-width="0.5" />
<text x="516.80" y="249.54" font-family="'Liberation Sans', sans-serif" font-size="4.5" fill="#444" text-anchor="end" >−8</text>
<line x1="518.20" y1="257.48" x2="519.40" y2="257.48" stroke="#a8a8a8" stroke-width="0.5" />
<text x="516.80" y="259.08" font-family="'Liberation Sans', sans-serif" font-size="4.5" fill="#444" text-anchor="end" >−6</text>
<line x1="518.20" y1="267.02" x2="519.40" y2="267.02" stroke="#a8a8a8" stroke-width="0.5" />
<text x="516.80" y="268.62" font-family="'Liberation Sans', sans-serif" font-size="4.5" fill="#444" text-anchor="end" >−4</text>
<line x1="518.20" y1="276.56" x2="519.40" y2="276.56" stroke="#a8a8a8" stroke-width="0.5" />
<text x="516.80" y="278.16" font-family="'Liberation Sans', sans-serif" font-size="4.5" fill="#444" text-anchor="end" >−2</text>
<line x1="521.00" y1="280.80" x2="521.00" y2="279.60" stroke="#a8a8a8" stroke-width="0.5" />
<text x="521.00" y="286.20" font-family="'Liberation Sans', sans-serif" font-size="4.5" fill="#444" text-anchor="middle" >10<tspan font-size="3" dy="-1.5">-3</tspan></text>
<line x1="538.70" y1="280.80" x2="538.70" y2="279.60" stroke="#a8a8a8" stroke-width="0.5" />
<text x="538.70" y="286.20" font-family="'Liberation Sans', sans-serif" font-size="4.5" fill="#444" text-anchor="middle" >10<tspan font-size="3" dy="-1.5">-1</tspan></text>
<line x1="556.40" y1="280.80" x2="556.40" y2="279.60" stroke="#a8a8a8" stroke-width="0.5" />
<text x="556.40" y="286.20" font-family="'Liberation Sans', sans-serif" font-size="4.5" fill="#444" text-anchor="middle" >10<tspan font-size="3" dy="-1.5">1</tspan></text>
<line x1="574.20" y1="280.80" x2="574.20" y2="279.60" stroke="#a8a8a8" stroke-width="0.5" />
<text x="574.20" y="286.20" font-family="'Liberation Sans', sans-serif" font-size="4.5" fill="#444" text-anchor="middle" >10<tspan font-size="3" dy="-1.5">3</tspan></text>
<line x1="591.40" y1="280.80" x2="591.40" y2="279.60" stroke="#a8a8a8" stroke-width="0.5" />
<text x="591.40" y="286.20" font-family="'Liberation Sans', sans-serif" font-size="4.5" fill="#444" text-anchor="middle" >10<tspan font-size="3" dy="-1.5">5</tspan></text>
<text x="550.50" y="296.40" font-family="'Liberation Sans', sans-serif" font-size="7.2" fill="#222" text-anchor="middle" textLength="63.50" lengthAdjust="spacingAndGlyphs" >Glucose concentration</text>
<text x="551.30" y="303.00" font-family="'Liberation Sans', sans-serif" font-size="7.2" fill="#222" text-anchor="middle" textLength="16.30" lengthAdjust="spacingAndGlyphs" >(mM)</text>
<text x="507.50" y="244.50" font-family="'Liberation Sans', sans-serif" font-size="9" fill="#222" text-anchor="middle" transform="rotate(-90 507.50 244.50)" >I<tspan font-size="6.5" dy="1.8">d</tspan><tspan dy="-1.8"> (µA)</tspan></text>
<radialGradient id="id0" cx="0.38" cy="0.32" r="0.7"><stop offset="0" stop-color="#fff" stop-opacity="0.9"/><stop offset="0.2" stop-color="#e02a24"/><stop offset="1" stop-color="#e02a24"/></radialGradient>
<circle cx="521.5" cy="276.4" r="2.3" fill="url(#id0)"/>
<radialGradient id="id1" cx="0.38" cy="0.32" r="0.7"><stop offset="0" stop-color="#fff" stop-opacity="0.9"/><stop offset="0.2" stop-color="#e02a24"/><stop offset="1" stop-color="#e02a24"/></radialGradient>
<circle cx="538.7" cy="277.6" r="2.3" fill="url(#id1)"/>
<radialGradient id="id2" cx="0.38" cy="0.32" r="0.7"><stop offset="0" stop-color="#fff" stop-opacity="0.9"/><stop offset="0.2" stop-color="#d83026"/><stop offset="1" stop-color="#d83026"/></radialGradient>
<circle cx="547.6" cy="275.5" r="2.3" fill="url(#id2)"/>
<radialGradient id="id3" cx="0.38" cy="0.32" r="0.7"><stop offset="0" stop-color="#fff" stop-opacity="0.9"/><stop offset="0.2" stop-color="#b84a2a"/><stop offset="1" stop-color="#b84a2a"/></radialGradient>
<circle cx="550.5" cy="267.5" r="2.3" fill="url(#id3)"/>
<radialGradient id="id4" cx="0.38" cy="0.32" r="0.7"><stop offset="0" stop-color="#fff" stop-opacity="0.9"/><stop offset="0.2" stop-color="#9a5a2c"/><stop offset="1" stop-color="#9a5a2c"/></radialGradient>
<circle cx="555.9" cy="245" r="2.3" fill="url(#id4)"/>
<radialGradient id="id5" cx="0.38" cy="0.32" r="0.7"><stop offset="0" stop-color="#fff" stop-opacity="0.9"/><stop offset="0.2" stop-color="#7a7a2c"/><stop offset="1" stop-color="#7a7a2c"/></radialGradient>
<circle cx="564.7" cy="237" r="2.3" fill="url(#id5)"/>
<radialGradient id="id6" cx="0.38" cy="0.32" r="0.7"><stop offset="0" stop-color="#fff" stop-opacity="0.9"/><stop offset="0.2" stop-color="#6a9a34"/><stop offset="1" stop-color="#6a9a34"/></radialGradient>
<circle cx="573.3" cy="218.4" r="2.3" fill="url(#id6)"/>
<radialGradient id="id7" cx="0.38" cy="0.32" r="0.7"><stop offset="0" stop-color="#fff" stop-opacity="0.9"/><stop offset="0.2" stop-color="#5cc048"/><stop offset="1" stop-color="#5cc048"/></radialGradient>
<circle cx="590.8" cy="209.5" r="2.3" fill="url(#id7)"/>
<path d="M667.2,283 L667.2,238.6 L665.2,238.6 L669.3,233.1 L673.3,238.6 L671.4,238.6 L671.4,283 Z" fill="url(#arrowg)"/>
<text x="677.50" y="220.00" font-family="'Liberation Sans', sans-serif" font-size="8.3" fill="#222" textLength="75.40" lengthAdjust="spacingAndGlyphs" transform="rotate(90 677.50 220.00)" >Increasing concentration</text>
</svg>
</body></html>
